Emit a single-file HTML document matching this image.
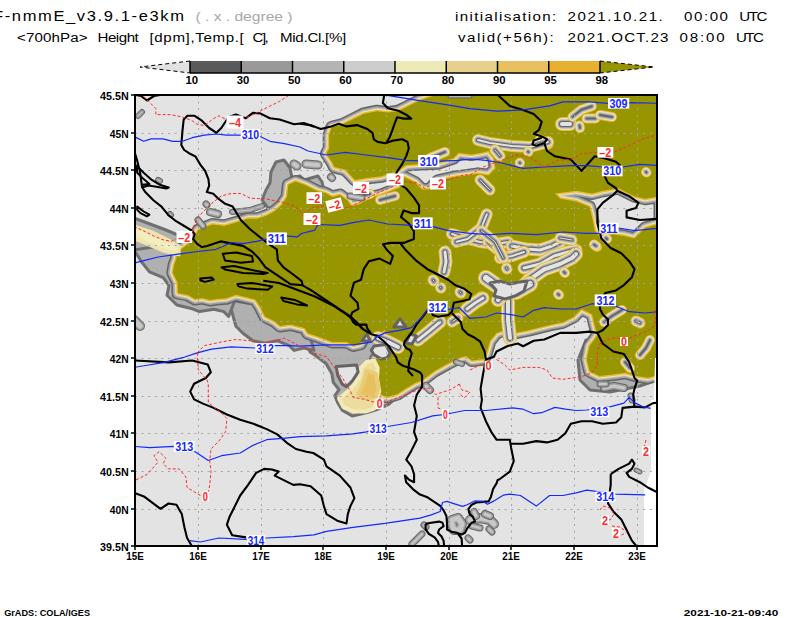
<!DOCTYPE html><html><head><meta charset="utf-8"><style>html,body{margin:0;padding:0;background:#fff;overflow:hidden;}svg{display:block;font-family:"Liberation Sans",sans-serif;}</style></head><body>
<svg width="800" height="618" viewBox="0 0 800 618">
<rect width="800" height="618" fill="#fff"/>
<defs><clipPath id="mc"><rect x="135" y="95" width="522" height="451"/></clipPath></defs>
<g transform="scale(1.180,1)"><text x="-5.93" y="20.70" font-size="14.0" fill="#000" font-weight="normal" textLength="161.86" lengthAdjust="spacing" xml:space="preserve">F-nmmE_v3.9.1-e3km</text></g>
<g transform="scale(1.120,1)"><text x="406.25" y="20.70" font-size="13.5" fill="#000" font-weight="normal" textLength="90.45" lengthAdjust="spacing" xml:space="preserve">initialisation:</text></g>
<g transform="scale(1.120,1)"><text x="506.70" y="20.70" font-size="13.5" fill="#000" font-weight="normal" textLength="85.09" lengthAdjust="spacing" xml:space="preserve">2021.10.21.</text></g>
<g transform="scale(1.120,1)"><text x="610.80" y="20.70" font-size="13.5" fill="#000" font-weight="normal" textLength="39.20" lengthAdjust="spacing" xml:space="preserve">00:00</text></g>
<g transform="scale(1.120,1)"><text x="660.09" y="20.70" font-size="13.5" fill="#000" font-weight="normal" textLength="25.09" lengthAdjust="spacing" xml:space="preserve">UTC</text></g>
<g transform="scale(1.120,1)"><text x="408.93" y="41.70" font-size="13.5" fill="#000" font-weight="normal" textLength="85.54" lengthAdjust="spacing" xml:space="preserve">valid(+56h):</text></g>
<g transform="scale(1.120,1)"><text x="506.70" y="41.70" font-size="13.5" fill="#000" font-weight="normal" textLength="90.09" lengthAdjust="spacing" xml:space="preserve">2021.OCT.23</text></g>
<g transform="scale(1.120,1)"><text x="606.79" y="41.70" font-size="13.5" fill="#000" font-weight="normal" textLength="40.18" lengthAdjust="spacing" xml:space="preserve">08:00</text></g>
<g transform="scale(1.120,1)"><text x="657.05" y="41.70" font-size="13.5" fill="#000" font-weight="normal" textLength="25.09" lengthAdjust="spacing" xml:space="preserve">UTC</text></g>
<g transform="scale(1.120,1)"><text x="15.18" y="41.70" font-size="13.5" fill="#000" font-weight="normal" textLength="62.95" lengthAdjust="spacing" xml:space="preserve">&lt;700hPa&gt;</text></g>
<g transform="scale(1.120,1)"><text x="87.05" y="41.70" font-size="13.5" fill="#000" font-weight="normal" textLength="36.88" lengthAdjust="spacing" xml:space="preserve">Height</text></g>
<g transform="scale(1.120,1)"><text x="133.48" y="41.70" font-size="13.5" fill="#000" font-weight="normal" textLength="84.20" lengthAdjust="spacing" xml:space="preserve">[dpm],Temp.[</text></g>
<g transform="scale(1.120,1)"><text x="225.45" y="41.70" font-size="13.5" fill="#000" font-weight="normal" textLength="14.55" lengthAdjust="spacing" xml:space="preserve">C],</text></g>
<g transform="scale(1.120,1)"><text x="250.00" y="41.70" font-size="13.5" fill="#000" font-weight="normal" textLength="59.20" lengthAdjust="spacing" xml:space="preserve">Mid.Cl.[%]</text></g>
<text x="195.5" y="20.5" font-size="12.0" fill="#a8a8a8" text-anchor="start" font-weight="normal" textLength="97.0" lengthAdjust="spacingAndGlyphs" >( . x . degree )</text>
<text x="4.2" y="615.5" font-size="9.5" fill="#000" text-anchor="start" font-weight="bold" textLength="85.8" lengthAdjust="spacingAndGlyphs" >GrADS: COLA/IGES</text>
<text x="683.8" y="615.5" font-size="9.5" fill="#000" text-anchor="start" font-weight="bold" textLength="94.4" lengthAdjust="spacingAndGlyphs" >2021-10-21-09:40</text>
<polygon points="190,61 190,73 140,67" fill="#e1e1e1"/>
<path d="M190 61 L140 67 L190 73" fill="none" stroke="#000" stroke-width="1" stroke-dasharray="4,3"/>
<rect x="190.00" y="61" width="51.25" height="12" fill="#5a5a5a"/>
<rect x="241.25" y="61" width="51.25" height="12" fill="#999999"/>
<rect x="292.50" y="61" width="51.25" height="12" fill="#b4b4b4"/>
<rect x="343.75" y="61" width="51.25" height="12" fill="#cdcdcd"/>
<rect x="395.00" y="61" width="51.25" height="12" fill="#eeeab8"/>
<rect x="446.25" y="61" width="51.25" height="12" fill="#e8d08c"/>
<rect x="497.50" y="61" width="51.25" height="12" fill="#e8c060"/>
<rect x="548.75" y="61" width="51.25" height="12" fill="#e8b030"/>
<polygon points="600,61 600,73 654,67" fill="#979500"/>
<path d="M600 61 L654 67 L600 73" fill="none" stroke="#000" stroke-width="1" stroke-dasharray="4,3"/>
<line x1="190" y1="73" x2="600" y2="73" stroke="#000" stroke-width="1.5"/>
<line x1="190.00" y1="61" x2="190.00" y2="73" stroke="#000" stroke-width="1.5"/>
<text x="185.5" y="84.0" font-size="10.0" fill="#000" text-anchor="start" font-weight="bold" textLength="12.6" lengthAdjust="spacingAndGlyphs" >10</text>
<line x1="241.25" y1="61" x2="241.25" y2="73" stroke="#000" stroke-width="1.5"/>
<text x="236.8" y="84.0" font-size="10.0" fill="#000" text-anchor="start" font-weight="bold" textLength="12.6" lengthAdjust="spacingAndGlyphs" >30</text>
<line x1="292.50" y1="61" x2="292.50" y2="73" stroke="#000" stroke-width="1.5"/>
<text x="288.0" y="84.0" font-size="10.0" fill="#000" text-anchor="start" font-weight="bold" textLength="12.6" lengthAdjust="spacingAndGlyphs" >50</text>
<line x1="343.75" y1="61" x2="343.75" y2="73" stroke="#000" stroke-width="1.5"/>
<text x="339.2" y="84.0" font-size="10.0" fill="#000" text-anchor="start" font-weight="bold" textLength="12.6" lengthAdjust="spacingAndGlyphs" >60</text>
<line x1="395.00" y1="61" x2="395.00" y2="73" stroke="#000" stroke-width="1.5"/>
<text x="390.5" y="84.0" font-size="10.0" fill="#000" text-anchor="start" font-weight="bold" textLength="12.6" lengthAdjust="spacingAndGlyphs" >70</text>
<line x1="446.25" y1="61" x2="446.25" y2="73" stroke="#000" stroke-width="1.5"/>
<text x="441.8" y="84.0" font-size="10.0" fill="#000" text-anchor="start" font-weight="bold" textLength="12.6" lengthAdjust="spacingAndGlyphs" >80</text>
<line x1="497.50" y1="61" x2="497.50" y2="73" stroke="#000" stroke-width="1.5"/>
<text x="493.0" y="84.0" font-size="10.0" fill="#000" text-anchor="start" font-weight="bold" textLength="12.6" lengthAdjust="spacingAndGlyphs" >90</text>
<line x1="548.75" y1="61" x2="548.75" y2="73" stroke="#000" stroke-width="1.5"/>
<text x="544.2" y="84.0" font-size="10.0" fill="#000" text-anchor="start" font-weight="bold" textLength="12.6" lengthAdjust="spacingAndGlyphs" >95</text>
<line x1="600.00" y1="61" x2="600.00" y2="73" stroke="#000" stroke-width="1.5"/>
<text x="595.5" y="84.0" font-size="10.0" fill="#000" text-anchor="start" font-weight="bold" textLength="12.6" lengthAdjust="spacingAndGlyphs" >98</text>
<g clip-path="url(#mc)">
<rect x="134" y="94" width="524" height="453" fill="#e3e3e3"/>
<path d="M300.0 330.0 L310.0 351.9 L314.4 354.8 L326.0 363.5 L331.9 373.7 L333.3 382.4 L339.1 389.7 L334.8 395.6 L337.7 402.8 L342.1 410.1 L352.2 416.0 L365.4 413.0 L375.6 410.1 L388.7 404.3 L403.2 391.2 L414.9 385.4 L420.0 383.9 L400.0 360.0 L380.0 335.0 Z" fill="#b0b0b0" stroke="#707070" stroke-width="3" stroke-linejoin="round"/>
<path d="M271.0 172.0 L276.0 162.0 L284.0 160.0 L290.0 168.0 L292.0 178.0 L300.0 176.0 L304.0 180.0 L318.0 176.0 L322.0 182.0 L324.0 190.0 L318.0 195.0 L300.0 190.0 L290.0 190.0 L285.0 196.0 L280.0 205.0 L276.0 210.0 L268.0 208.0 L262.0 200.0 L266.0 190.0 L270.0 183.0 Z" fill="#b0b0b0" stroke="#707070" stroke-width="3" stroke-linejoin="round"/>
<path d="M228.6 300.0 L235.9 326.2 L243.2 333.5 L252.9 340.7 L265.0 343.2 L277.1 340.7 L289.3 345.6 L294.1 350.4 L303.8 348.0 L314.0 350.4 L310.0 336.0 L280.0 322.0 L260.0 305.0 Z" fill="#b0b0b0" stroke="#707070" stroke-width="3" stroke-linejoin="round"/>
<path d="M134.0 218.0 L150.0 224.0 L166.0 230.0 L180.0 236.0 L190.0 246.0 L186.0 262.0 L172.0 266.0 L160.0 258.0 L148.0 252.0 L134.0 250.0 Z" fill="#b0b0b0" stroke="#707070" stroke-width="3" stroke-linejoin="round"/>
<path d="M134.0 250.0 L141.8 262.2 L149.5 271.9 L163.2 277.7 L169.0 285.5 L167.0 295.2 L176.8 305.0 L192.3 308.8 L199.5 311.6 L214.0 309.2 L223.8 311.6 L228.6 316.5 L235.0 300.0 L180.0 290.0 L176.0 250.0 L160.0 246.0 Z" fill="#b0b0b0" stroke="#707070" stroke-width="3" stroke-linejoin="round"/>
<path d="M586.0 340.0 L578.0 360.0 L580.0 380.0 L590.0 390.0 L610.0 392.0 L640.0 386.0 L657.0 380.0 L657.0 370.0 L600.0 370.0 Z" fill="#b0b0b0" stroke="#707070" stroke-width="3" stroke-linejoin="round"/>
<path d="M435.0 93.0 L660.0 93.0 L660.0 372.0 L654.5 376.0 L648.0 377.7 L636.7 376.0 L625.3 372.8 L612.4 374.5 L599.4 376.0 L589.7 371.2 L586.8 359.4 L589.4 346.2 L597.4 335.5 L594.7 324.9 L592.1 314.3 L581.5 309.0 L573.5 317.0 L562.9 322.3 L549.6 324.9 L528.4 330.2 L515.1 332.9 L504.5 330.2 L496.5 332.9 L490.0 341.0 L485.5 356.0 L484.0 359.0 L472.0 360.5 L466.0 356.0 L460.0 357.5 L448.0 363.5 L434.5 371.0 L422.5 380.0 L415.0 383.0 L405.0 389.0 L397.4 394.1 L387.2 397.0 L379.9 394.1 L378.5 385.4 L377.0 373.7 L375.6 359.1 L385.8 357.7 L392.0 352.0 L392.0 346.0 L385.0 342.0 L385.0 329.8 L378.0 335.0 L371.0 333.3 L364.0 336.8 L360.5 343.8 L353.5 345.5 L346.5 342.0 L332.5 342.0 L318.5 336.8 L308.0 333.3 L304.5 328.0 L290.5 324.5 L280.0 326.0 L274.7 321.3 L265.0 316.5 L260.2 306.8 L255.3 299.5 L245.6 297.1 L235.9 294.7 L226.2 298.3 L216.5 299.0 L210.0 300.0 L202.0 298.0 L195.0 299.0 L188.0 295.0 L183.0 294.0 L178.0 293.0 L177.7 282.5 L172.8 272.8 L174.0 265.5 L176.5 258.3 L177.7 248.6 L181.5 249.3 L193.4 239.8 L198.1 230.3 L212.4 224.5 L224.3 225.9 L236.1 222.5 L248.0 218.8 L257.5 218.8 L267.0 215.4 L274.1 211.6 L281.3 205.5 L287.0 197.0 L288.4 184.8 L295.5 181.4 L305.0 185.1 L310.0 187.5 L317.5 191.3 L325.0 193.1 L332.5 196.9 L340.0 195.0 L347.5 200.6 L351.3 206.3 L358.8 204.4 L366.3 200.6 L373.8 196.9 L381.3 195.0 L390.6 191.3 L400.0 187.5 L404.5 177.3 L415.0 182.5 L422.0 189.5 L429.0 189.5 L437.8 180.8 L453.5 177.3 L467.5 175.5 L478.0 173.8 L488.5 175.5 L495.5 168.5 L493.8 158.0 L488.5 151.0 L481.5 152.8 L471.0 154.5 L458.8 152.8 L453.5 158.0 L437.8 163.3 L420.3 164.1 L406.3 165.0 L395.8 172.0 L392.5 172.5 L381.3 176.3 L366.3 178.1 L355.0 180.0 L350.4 174.9 L345.1 169.6 L334.5 167.0 L331.8 161.7 L326.5 153.7 L329.2 148.4 L329.2 135.1 L331.8 127.2 L342.5 124.5 L353.1 119.2 L363.7 113.9 L377.0 111.2 L387.6 112.6 L398.2 111.2 L406.2 107.3 L419.4 100.6 L435.4 95.3 Z M554.9 193.5 L576.2 190.8 L592.1 193.5 L602.7 190.8 L618.6 188.2 L634.5 196.2 L645.2 198.8 L662.0 196.0 L662.0 223.0 L645.2 228.0 L634.5 238.6 L623.9 236.0 L613.3 234.6 L600.0 237.3 L594.7 230.7 L592.1 217.4 L589.4 206.8 L576.2 201.5 L560.2 198.8 Z" fill="none" stroke="#646464" stroke-width="13" stroke-linejoin="round"/>
<path d="M435.0 93.0 L660.0 93.0 L660.0 372.0 L654.5 376.0 L648.0 377.7 L636.7 376.0 L625.3 372.8 L612.4 374.5 L599.4 376.0 L589.7 371.2 L586.8 359.4 L589.4 346.2 L597.4 335.5 L594.7 324.9 L592.1 314.3 L581.5 309.0 L573.5 317.0 L562.9 322.3 L549.6 324.9 L528.4 330.2 L515.1 332.9 L504.5 330.2 L496.5 332.9 L490.0 341.0 L485.5 356.0 L484.0 359.0 L472.0 360.5 L466.0 356.0 L460.0 357.5 L448.0 363.5 L434.5 371.0 L422.5 380.0 L415.0 383.0 L405.0 389.0 L397.4 394.1 L387.2 397.0 L379.9 394.1 L378.5 385.4 L377.0 373.7 L375.6 359.1 L385.8 357.7 L392.0 352.0 L392.0 346.0 L385.0 342.0 L385.0 329.8 L378.0 335.0 L371.0 333.3 L364.0 336.8 L360.5 343.8 L353.5 345.5 L346.5 342.0 L332.5 342.0 L318.5 336.8 L308.0 333.3 L304.5 328.0 L290.5 324.5 L280.0 326.0 L274.7 321.3 L265.0 316.5 L260.2 306.8 L255.3 299.5 L245.6 297.1 L235.9 294.7 L226.2 298.3 L216.5 299.0 L210.0 300.0 L202.0 298.0 L195.0 299.0 L188.0 295.0 L183.0 294.0 L178.0 293.0 L177.7 282.5 L172.8 272.8 L174.0 265.5 L176.5 258.3 L177.7 248.6 L181.5 249.3 L193.4 239.8 L198.1 230.3 L212.4 224.5 L224.3 225.9 L236.1 222.5 L248.0 218.8 L257.5 218.8 L267.0 215.4 L274.1 211.6 L281.3 205.5 L287.0 197.0 L288.4 184.8 L295.5 181.4 L305.0 185.1 L310.0 187.5 L317.5 191.3 L325.0 193.1 L332.5 196.9 L340.0 195.0 L347.5 200.6 L351.3 206.3 L358.8 204.4 L366.3 200.6 L373.8 196.9 L381.3 195.0 L390.6 191.3 L400.0 187.5 L404.5 177.3 L415.0 182.5 L422.0 189.5 L429.0 189.5 L437.8 180.8 L453.5 177.3 L467.5 175.5 L478.0 173.8 L488.5 175.5 L495.5 168.5 L493.8 158.0 L488.5 151.0 L481.5 152.8 L471.0 154.5 L458.8 152.8 L453.5 158.0 L437.8 163.3 L420.3 164.1 L406.3 165.0 L395.8 172.0 L392.5 172.5 L381.3 176.3 L366.3 178.1 L355.0 180.0 L350.4 174.9 L345.1 169.6 L334.5 167.0 L331.8 161.7 L326.5 153.7 L329.2 148.4 L329.2 135.1 L331.8 127.2 L342.5 124.5 L353.1 119.2 L363.7 113.9 L377.0 111.2 L387.6 112.6 L398.2 111.2 L406.2 107.3 L419.4 100.6 L435.4 95.3 Z M554.9 193.5 L576.2 190.8 L592.1 193.5 L602.7 190.8 L618.6 188.2 L634.5 196.2 L645.2 198.8 L662.0 196.0 L662.0 223.0 L645.2 228.0 L634.5 238.6 L623.9 236.0 L613.3 234.6 L600.0 237.3 L594.7 230.7 L592.1 217.4 L589.4 206.8 L576.2 201.5 L560.2 198.8 Z" fill="none" stroke="#a0a0a0" stroke-width="10" stroke-linejoin="round"/>
<path d="M435.0 93.0 L660.0 93.0 L660.0 372.0 L654.5 376.0 L648.0 377.7 L636.7 376.0 L625.3 372.8 L612.4 374.5 L599.4 376.0 L589.7 371.2 L586.8 359.4 L589.4 346.2 L597.4 335.5 L594.7 324.9 L592.1 314.3 L581.5 309.0 L573.5 317.0 L562.9 322.3 L549.6 324.9 L528.4 330.2 L515.1 332.9 L504.5 330.2 L496.5 332.9 L490.0 341.0 L485.5 356.0 L484.0 359.0 L472.0 360.5 L466.0 356.0 L460.0 357.5 L448.0 363.5 L434.5 371.0 L422.5 380.0 L415.0 383.0 L405.0 389.0 L397.4 394.1 L387.2 397.0 L379.9 394.1 L378.5 385.4 L377.0 373.7 L375.6 359.1 L385.8 357.7 L392.0 352.0 L392.0 346.0 L385.0 342.0 L385.0 329.8 L378.0 335.0 L371.0 333.3 L364.0 336.8 L360.5 343.8 L353.5 345.5 L346.5 342.0 L332.5 342.0 L318.5 336.8 L308.0 333.3 L304.5 328.0 L290.5 324.5 L280.0 326.0 L274.7 321.3 L265.0 316.5 L260.2 306.8 L255.3 299.5 L245.6 297.1 L235.9 294.7 L226.2 298.3 L216.5 299.0 L210.0 300.0 L202.0 298.0 L195.0 299.0 L188.0 295.0 L183.0 294.0 L178.0 293.0 L177.7 282.5 L172.8 272.8 L174.0 265.5 L176.5 258.3 L177.7 248.6 L181.5 249.3 L193.4 239.8 L198.1 230.3 L212.4 224.5 L224.3 225.9 L236.1 222.5 L248.0 218.8 L257.5 218.8 L267.0 215.4 L274.1 211.6 L281.3 205.5 L287.0 197.0 L288.4 184.8 L295.5 181.4 L305.0 185.1 L310.0 187.5 L317.5 191.3 L325.0 193.1 L332.5 196.9 L340.0 195.0 L347.5 200.6 L351.3 206.3 L358.8 204.4 L366.3 200.6 L373.8 196.9 L381.3 195.0 L390.6 191.3 L400.0 187.5 L404.5 177.3 L415.0 182.5 L422.0 189.5 L429.0 189.5 L437.8 180.8 L453.5 177.3 L467.5 175.5 L478.0 173.8 L488.5 175.5 L495.5 168.5 L493.8 158.0 L488.5 151.0 L481.5 152.8 L471.0 154.5 L458.8 152.8 L453.5 158.0 L437.8 163.3 L420.3 164.1 L406.3 165.0 L395.8 172.0 L392.5 172.5 L381.3 176.3 L366.3 178.1 L355.0 180.0 L350.4 174.9 L345.1 169.6 L334.5 167.0 L331.8 161.7 L326.5 153.7 L329.2 148.4 L329.2 135.1 L331.8 127.2 L342.5 124.5 L353.1 119.2 L363.7 113.9 L377.0 111.2 L387.6 112.6 L398.2 111.2 L406.2 107.3 L419.4 100.6 L435.4 95.3 Z M554.9 193.5 L576.2 190.8 L592.1 193.5 L602.7 190.8 L618.6 188.2 L634.5 196.2 L645.2 198.8 L662.0 196.0 L662.0 223.0 L645.2 228.0 L634.5 238.6 L623.9 236.0 L613.3 234.6 L600.0 237.3 L594.7 230.7 L592.1 217.4 L589.4 206.8 L576.2 201.5 L560.2 198.8 Z" fill="none" stroke="#c8c8c8" stroke-width="7" stroke-linejoin="round"/>
<path d="M435.0 93.0 L660.0 93.0 L660.0 372.0 L654.5 376.0 L648.0 377.7 L636.7 376.0 L625.3 372.8 L612.4 374.5 L599.4 376.0 L589.7 371.2 L586.8 359.4 L589.4 346.2 L597.4 335.5 L594.7 324.9 L592.1 314.3 L581.5 309.0 L573.5 317.0 L562.9 322.3 L549.6 324.9 L528.4 330.2 L515.1 332.9 L504.5 330.2 L496.5 332.9 L490.0 341.0 L485.5 356.0 L484.0 359.0 L472.0 360.5 L466.0 356.0 L460.0 357.5 L448.0 363.5 L434.5 371.0 L422.5 380.0 L415.0 383.0 L405.0 389.0 L397.4 394.1 L387.2 397.0 L379.9 394.1 L378.5 385.4 L377.0 373.7 L375.6 359.1 L385.8 357.7 L392.0 352.0 L392.0 346.0 L385.0 342.0 L385.0 329.8 L378.0 335.0 L371.0 333.3 L364.0 336.8 L360.5 343.8 L353.5 345.5 L346.5 342.0 L332.5 342.0 L318.5 336.8 L308.0 333.3 L304.5 328.0 L290.5 324.5 L280.0 326.0 L274.7 321.3 L265.0 316.5 L260.2 306.8 L255.3 299.5 L245.6 297.1 L235.9 294.7 L226.2 298.3 L216.5 299.0 L210.0 300.0 L202.0 298.0 L195.0 299.0 L188.0 295.0 L183.0 294.0 L178.0 293.0 L177.7 282.5 L172.8 272.8 L174.0 265.5 L176.5 258.3 L177.7 248.6 L181.5 249.3 L193.4 239.8 L198.1 230.3 L212.4 224.5 L224.3 225.9 L236.1 222.5 L248.0 218.8 L257.5 218.8 L267.0 215.4 L274.1 211.6 L281.3 205.5 L287.0 197.0 L288.4 184.8 L295.5 181.4 L305.0 185.1 L310.0 187.5 L317.5 191.3 L325.0 193.1 L332.5 196.9 L340.0 195.0 L347.5 200.6 L351.3 206.3 L358.8 204.4 L366.3 200.6 L373.8 196.9 L381.3 195.0 L390.6 191.3 L400.0 187.5 L404.5 177.3 L415.0 182.5 L422.0 189.5 L429.0 189.5 L437.8 180.8 L453.5 177.3 L467.5 175.5 L478.0 173.8 L488.5 175.5 L495.5 168.5 L493.8 158.0 L488.5 151.0 L481.5 152.8 L471.0 154.5 L458.8 152.8 L453.5 158.0 L437.8 163.3 L420.3 164.1 L406.3 165.0 L395.8 172.0 L392.5 172.5 L381.3 176.3 L366.3 178.1 L355.0 180.0 L350.4 174.9 L345.1 169.6 L334.5 167.0 L331.8 161.7 L326.5 153.7 L329.2 148.4 L329.2 135.1 L331.8 127.2 L342.5 124.5 L353.1 119.2 L363.7 113.9 L377.0 111.2 L387.6 112.6 L398.2 111.2 L406.2 107.3 L419.4 100.6 L435.4 95.3 Z M554.9 193.5 L576.2 190.8 L592.1 193.5 L602.7 190.8 L618.6 188.2 L634.5 196.2 L645.2 198.8 L662.0 196.0 L662.0 223.0 L645.2 228.0 L634.5 238.6 L623.9 236.0 L613.3 234.6 L600.0 237.3 L594.7 230.7 L592.1 217.4 L589.4 206.8 L576.2 201.5 L560.2 198.8 Z" fill="none" stroke="#f0e6a8" stroke-width="5" stroke-linejoin="round"/>
<path d="M435.0 93.0 L660.0 93.0 L660.0 372.0 L654.5 376.0 L648.0 377.7 L636.7 376.0 L625.3 372.8 L612.4 374.5 L599.4 376.0 L589.7 371.2 L586.8 359.4 L589.4 346.2 L597.4 335.5 L594.7 324.9 L592.1 314.3 L581.5 309.0 L573.5 317.0 L562.9 322.3 L549.6 324.9 L528.4 330.2 L515.1 332.9 L504.5 330.2 L496.5 332.9 L490.0 341.0 L485.5 356.0 L484.0 359.0 L472.0 360.5 L466.0 356.0 L460.0 357.5 L448.0 363.5 L434.5 371.0 L422.5 380.0 L415.0 383.0 L405.0 389.0 L397.4 394.1 L387.2 397.0 L379.9 394.1 L378.5 385.4 L377.0 373.7 L375.6 359.1 L385.8 357.7 L392.0 352.0 L392.0 346.0 L385.0 342.0 L385.0 329.8 L378.0 335.0 L371.0 333.3 L364.0 336.8 L360.5 343.8 L353.5 345.5 L346.5 342.0 L332.5 342.0 L318.5 336.8 L308.0 333.3 L304.5 328.0 L290.5 324.5 L280.0 326.0 L274.7 321.3 L265.0 316.5 L260.2 306.8 L255.3 299.5 L245.6 297.1 L235.9 294.7 L226.2 298.3 L216.5 299.0 L210.0 300.0 L202.0 298.0 L195.0 299.0 L188.0 295.0 L183.0 294.0 L178.0 293.0 L177.7 282.5 L172.8 272.8 L174.0 265.5 L176.5 258.3 L177.7 248.6 L181.5 249.3 L193.4 239.8 L198.1 230.3 L212.4 224.5 L224.3 225.9 L236.1 222.5 L248.0 218.8 L257.5 218.8 L267.0 215.4 L274.1 211.6 L281.3 205.5 L287.0 197.0 L288.4 184.8 L295.5 181.4 L305.0 185.1 L310.0 187.5 L317.5 191.3 L325.0 193.1 L332.5 196.9 L340.0 195.0 L347.5 200.6 L351.3 206.3 L358.8 204.4 L366.3 200.6 L373.8 196.9 L381.3 195.0 L390.6 191.3 L400.0 187.5 L404.5 177.3 L415.0 182.5 L422.0 189.5 L429.0 189.5 L437.8 180.8 L453.5 177.3 L467.5 175.5 L478.0 173.8 L488.5 175.5 L495.5 168.5 L493.8 158.0 L488.5 151.0 L481.5 152.8 L471.0 154.5 L458.8 152.8 L453.5 158.0 L437.8 163.3 L420.3 164.1 L406.3 165.0 L395.8 172.0 L392.5 172.5 L381.3 176.3 L366.3 178.1 L355.0 180.0 L350.4 174.9 L345.1 169.6 L334.5 167.0 L331.8 161.7 L326.5 153.7 L329.2 148.4 L329.2 135.1 L331.8 127.2 L342.5 124.5 L353.1 119.2 L363.7 113.9 L377.0 111.2 L387.6 112.6 L398.2 111.2 L406.2 107.3 L419.4 100.6 L435.4 95.3 Z M554.9 193.5 L576.2 190.8 L592.1 193.5 L602.7 190.8 L618.6 188.2 L634.5 196.2 L645.2 198.8 L662.0 196.0 L662.0 223.0 L645.2 228.0 L634.5 238.6 L623.9 236.0 L613.3 234.6 L600.0 237.3 L594.7 230.7 L592.1 217.4 L589.4 206.8 L576.2 201.5 L560.2 198.8 Z" fill="none" stroke="#e8b838" stroke-width="3" stroke-linejoin="round"/>
<path d="M435.0 93.0 L660.0 93.0 L660.0 372.0 L654.5 376.0 L648.0 377.7 L636.7 376.0 L625.3 372.8 L612.4 374.5 L599.4 376.0 L589.7 371.2 L586.8 359.4 L589.4 346.2 L597.4 335.5 L594.7 324.9 L592.1 314.3 L581.5 309.0 L573.5 317.0 L562.9 322.3 L549.6 324.9 L528.4 330.2 L515.1 332.9 L504.5 330.2 L496.5 332.9 L490.0 341.0 L485.5 356.0 L484.0 359.0 L472.0 360.5 L466.0 356.0 L460.0 357.5 L448.0 363.5 L434.5 371.0 L422.5 380.0 L415.0 383.0 L405.0 389.0 L397.4 394.1 L387.2 397.0 L379.9 394.1 L378.5 385.4 L377.0 373.7 L375.6 359.1 L385.8 357.7 L392.0 352.0 L392.0 346.0 L385.0 342.0 L385.0 329.8 L378.0 335.0 L371.0 333.3 L364.0 336.8 L360.5 343.8 L353.5 345.5 L346.5 342.0 L332.5 342.0 L318.5 336.8 L308.0 333.3 L304.5 328.0 L290.5 324.5 L280.0 326.0 L274.7 321.3 L265.0 316.5 L260.2 306.8 L255.3 299.5 L245.6 297.1 L235.9 294.7 L226.2 298.3 L216.5 299.0 L210.0 300.0 L202.0 298.0 L195.0 299.0 L188.0 295.0 L183.0 294.0 L178.0 293.0 L177.7 282.5 L172.8 272.8 L174.0 265.5 L176.5 258.3 L177.7 248.6 L181.5 249.3 L193.4 239.8 L198.1 230.3 L212.4 224.5 L224.3 225.9 L236.1 222.5 L248.0 218.8 L257.5 218.8 L267.0 215.4 L274.1 211.6 L281.3 205.5 L287.0 197.0 L288.4 184.8 L295.5 181.4 L305.0 185.1 L310.0 187.5 L317.5 191.3 L325.0 193.1 L332.5 196.9 L340.0 195.0 L347.5 200.6 L351.3 206.3 L358.8 204.4 L366.3 200.6 L373.8 196.9 L381.3 195.0 L390.6 191.3 L400.0 187.5 L404.5 177.3 L415.0 182.5 L422.0 189.5 L429.0 189.5 L437.8 180.8 L453.5 177.3 L467.5 175.5 L478.0 173.8 L488.5 175.5 L495.5 168.5 L493.8 158.0 L488.5 151.0 L481.5 152.8 L471.0 154.5 L458.8 152.8 L453.5 158.0 L437.8 163.3 L420.3 164.1 L406.3 165.0 L395.8 172.0 L392.5 172.5 L381.3 176.3 L366.3 178.1 L355.0 180.0 L350.4 174.9 L345.1 169.6 L334.5 167.0 L331.8 161.7 L326.5 153.7 L329.2 148.4 L329.2 135.1 L331.8 127.2 L342.5 124.5 L353.1 119.2 L363.7 113.9 L377.0 111.2 L387.6 112.6 L398.2 111.2 L406.2 107.3 L419.4 100.6 L435.4 95.3 Z M554.9 193.5 L576.2 190.8 L592.1 193.5 L602.7 190.8 L618.6 188.2 L634.5 196.2 L645.2 198.8 L662.0 196.0 L662.0 223.0 L645.2 228.0 L634.5 238.6 L623.9 236.0 L613.3 234.6 L600.0 237.3 L594.7 230.7 L592.1 217.4 L589.4 206.8 L576.2 201.5 L560.2 198.8 Z" fill="#979500" fill-rule="evenodd"/>
<path d="M562.0 124.0 L570.0 124.0" fill="none" stroke="#e8b838" stroke-width="14" stroke-linejoin="round" stroke-linecap="round"/>
<path d="M562.0 124.0 L570.0 124.0" fill="none" stroke="#f0e6a8" stroke-width="12" stroke-linejoin="round" stroke-linecap="round"/>
<path d="M562.0 124.0 L570.0 124.0" fill="none" stroke="#c8c8c8" stroke-width="10" stroke-linejoin="round" stroke-linecap="round"/>
<path d="M562.0 124.0 L570.0 124.0" fill="none" stroke="#a0a0a0" stroke-width="8" stroke-linejoin="round" stroke-linecap="round"/>
<path d="M562.0 124.0 L570.0 124.0" fill="none" stroke="#646464" stroke-width="6" stroke-linejoin="round" stroke-linecap="round"/>
<path d="M562.0 124.0 L570.0 124.0" fill="none" stroke="#e3e3e3" stroke-width="4" stroke-linejoin="round" stroke-linecap="round"/>
<path d="M572.5 116.8 L581.3 109.8 L591.8 106.3" fill="none" stroke="#e8b838" stroke-width="10" stroke-linejoin="round" stroke-linecap="round"/>
<path d="M572.5 116.8 L581.3 109.8 L591.8 106.3" fill="none" stroke="#f0e6a8" stroke-width="8" stroke-linejoin="round" stroke-linecap="round"/>
<path d="M572.5 116.8 L581.3 109.8 L591.8 106.3" fill="none" stroke="#c8c8c8" stroke-width="6" stroke-linejoin="round" stroke-linecap="round"/>
<path d="M572.5 116.8 L581.3 109.8 L591.8 106.3" fill="none" stroke="#a0a0a0" stroke-width="4" stroke-linejoin="round" stroke-linecap="round"/>
<path d="M572.5 116.8 L581.3 109.8 L591.8 106.3" fill="none" stroke="#646464" stroke-width="2" stroke-linejoin="round" stroke-linecap="round"/>
<path d="M586.5 118.5 L595.3 118.5" fill="none" stroke="#e8b838" stroke-width="10" stroke-linejoin="round" stroke-linecap="round"/>
<path d="M586.5 118.5 L595.3 118.5" fill="none" stroke="#f0e6a8" stroke-width="8" stroke-linejoin="round" stroke-linecap="round"/>
<path d="M586.5 118.5 L595.3 118.5" fill="none" stroke="#c8c8c8" stroke-width="6" stroke-linejoin="round" stroke-linecap="round"/>
<path d="M586.5 118.5 L595.3 118.5" fill="none" stroke="#a0a0a0" stroke-width="4" stroke-linejoin="round" stroke-linecap="round"/>
<path d="M586.5 118.5 L595.3 118.5" fill="none" stroke="#646464" stroke-width="2" stroke-linejoin="round" stroke-linecap="round"/>
<path d="M600.0 115.0 L612.0 117.0" fill="none" stroke="#e8b838" stroke-width="10" stroke-linejoin="round" stroke-linecap="round"/>
<path d="M600.0 115.0 L612.0 117.0" fill="none" stroke="#f0e6a8" stroke-width="8" stroke-linejoin="round" stroke-linecap="round"/>
<path d="M600.0 115.0 L612.0 117.0" fill="none" stroke="#c8c8c8" stroke-width="6" stroke-linejoin="round" stroke-linecap="round"/>
<path d="M600.0 115.0 L612.0 117.0" fill="none" stroke="#a0a0a0" stroke-width="4" stroke-linejoin="round" stroke-linecap="round"/>
<path d="M600.0 115.0 L612.0 117.0" fill="none" stroke="#646464" stroke-width="2" stroke-linejoin="round" stroke-linecap="round"/>
<path d="M579.5 125.5 L580.0 128.0" fill="none" stroke="#e8b838" stroke-width="10" stroke-linejoin="round" stroke-linecap="round"/>
<path d="M579.5 125.5 L580.0 128.0" fill="none" stroke="#f0e6a8" stroke-width="8" stroke-linejoin="round" stroke-linecap="round"/>
<path d="M579.5 125.5 L580.0 128.0" fill="none" stroke="#c8c8c8" stroke-width="6" stroke-linejoin="round" stroke-linecap="round"/>
<path d="M579.5 125.5 L580.0 128.0" fill="none" stroke="#a0a0a0" stroke-width="4" stroke-linejoin="round" stroke-linecap="round"/>
<path d="M579.5 125.5 L580.0 128.0" fill="none" stroke="#646464" stroke-width="2" stroke-linejoin="round" stroke-linecap="round"/>
<path d="M540.0 140.0 L548.0 144.0" fill="none" stroke="#e8b838" stroke-width="11" stroke-linejoin="round" stroke-linecap="round"/>
<path d="M540.0 140.0 L548.0 144.0" fill="none" stroke="#f0e6a8" stroke-width="9" stroke-linejoin="round" stroke-linecap="round"/>
<path d="M540.0 140.0 L548.0 144.0" fill="none" stroke="#c8c8c8" stroke-width="7" stroke-linejoin="round" stroke-linecap="round"/>
<path d="M540.0 140.0 L548.0 144.0" fill="none" stroke="#a0a0a0" stroke-width="5" stroke-linejoin="round" stroke-linecap="round"/>
<path d="M540.0 140.0 L548.0 144.0" fill="none" stroke="#646464" stroke-width="3" stroke-linejoin="round" stroke-linecap="round"/>
<path d="M540.0 140.0 L548.0 144.0" fill="none" stroke="#e3e3e3" stroke-width="1" stroke-linejoin="round" stroke-linecap="round"/>
<path d="M452.0 234.0 L464.0 238.0 L480.0 242.0 L496.0 244.0 L508.0 242.0" fill="none" stroke="#e8b838" stroke-width="12" stroke-linejoin="round" stroke-linecap="round"/>
<path d="M452.0 234.0 L464.0 238.0 L480.0 242.0 L496.0 244.0 L508.0 242.0" fill="none" stroke="#f0e6a8" stroke-width="10" stroke-linejoin="round" stroke-linecap="round"/>
<path d="M452.0 234.0 L464.0 238.0 L480.0 242.0 L496.0 244.0 L508.0 242.0" fill="none" stroke="#c8c8c8" stroke-width="8" stroke-linejoin="round" stroke-linecap="round"/>
<path d="M452.0 234.0 L464.0 238.0 L480.0 242.0 L496.0 244.0 L508.0 242.0" fill="none" stroke="#a0a0a0" stroke-width="6" stroke-linejoin="round" stroke-linecap="round"/>
<path d="M452.0 234.0 L464.0 238.0 L480.0 242.0 L496.0 244.0 L508.0 242.0" fill="none" stroke="#646464" stroke-width="4" stroke-linejoin="round" stroke-linecap="round"/>
<path d="M452.0 234.0 L464.0 238.0 L480.0 242.0 L496.0 244.0 L508.0 242.0" fill="none" stroke="#e3e3e3" stroke-width="2" stroke-linejoin="round" stroke-linecap="round"/>
<path d="M488.0 242.0 L500.0 252.0 L506.0 258.0" fill="none" stroke="#e8b838" stroke-width="11" stroke-linejoin="round" stroke-linecap="round"/>
<path d="M488.0 242.0 L500.0 252.0 L506.0 258.0" fill="none" stroke="#f0e6a8" stroke-width="9" stroke-linejoin="round" stroke-linecap="round"/>
<path d="M488.0 242.0 L500.0 252.0 L506.0 258.0" fill="none" stroke="#c8c8c8" stroke-width="7" stroke-linejoin="round" stroke-linecap="round"/>
<path d="M488.0 242.0 L500.0 252.0 L506.0 258.0" fill="none" stroke="#a0a0a0" stroke-width="5" stroke-linejoin="round" stroke-linecap="round"/>
<path d="M488.0 242.0 L500.0 252.0 L506.0 258.0" fill="none" stroke="#646464" stroke-width="3" stroke-linejoin="round" stroke-linecap="round"/>
<path d="M488.0 242.0 L500.0 252.0 L506.0 258.0" fill="none" stroke="#e3e3e3" stroke-width="1" stroke-linejoin="round" stroke-linecap="round"/>
<path d="M512.0 246.0 L526.0 249.0 L540.0 250.0 L552.0 246.0 L560.0 242.0" fill="none" stroke="#e8b838" stroke-width="13" stroke-linejoin="round" stroke-linecap="round"/>
<path d="M512.0 246.0 L526.0 249.0 L540.0 250.0 L552.0 246.0 L560.0 242.0" fill="none" stroke="#f0e6a8" stroke-width="11" stroke-linejoin="round" stroke-linecap="round"/>
<path d="M512.0 246.0 L526.0 249.0 L540.0 250.0 L552.0 246.0 L560.0 242.0" fill="none" stroke="#c8c8c8" stroke-width="9" stroke-linejoin="round" stroke-linecap="round"/>
<path d="M512.0 246.0 L526.0 249.0 L540.0 250.0 L552.0 246.0 L560.0 242.0" fill="none" stroke="#a0a0a0" stroke-width="7" stroke-linejoin="round" stroke-linecap="round"/>
<path d="M512.0 246.0 L526.0 249.0 L540.0 250.0 L552.0 246.0 L560.0 242.0" fill="none" stroke="#646464" stroke-width="5" stroke-linejoin="round" stroke-linecap="round"/>
<path d="M512.0 246.0 L526.0 249.0 L540.0 250.0 L552.0 246.0 L560.0 242.0" fill="none" stroke="#e3e3e3" stroke-width="3" stroke-linejoin="round" stroke-linecap="round"/>
<path d="M500.0 258.0 L512.0 256.0 L524.0 252.0" fill="none" stroke="#e8b838" stroke-width="12" stroke-linejoin="round" stroke-linecap="round"/>
<path d="M500.0 258.0 L512.0 256.0 L524.0 252.0" fill="none" stroke="#f0e6a8" stroke-width="10" stroke-linejoin="round" stroke-linecap="round"/>
<path d="M500.0 258.0 L512.0 256.0 L524.0 252.0" fill="none" stroke="#c8c8c8" stroke-width="8" stroke-linejoin="round" stroke-linecap="round"/>
<path d="M500.0 258.0 L512.0 256.0 L524.0 252.0" fill="none" stroke="#a0a0a0" stroke-width="6" stroke-linejoin="round" stroke-linecap="round"/>
<path d="M500.0 258.0 L512.0 256.0 L524.0 252.0" fill="none" stroke="#646464" stroke-width="4" stroke-linejoin="round" stroke-linecap="round"/>
<path d="M500.0 258.0 L512.0 256.0 L524.0 252.0" fill="none" stroke="#e3e3e3" stroke-width="2" stroke-linejoin="round" stroke-linecap="round"/>
<path d="M524.0 268.0 L540.0 264.0 L554.0 256.0 L568.0 252.0 L576.0 250.0" fill="none" stroke="#e8b838" stroke-width="13" stroke-linejoin="round" stroke-linecap="round"/>
<path d="M524.0 268.0 L540.0 264.0 L554.0 256.0 L568.0 252.0 L576.0 250.0" fill="none" stroke="#f0e6a8" stroke-width="11" stroke-linejoin="round" stroke-linecap="round"/>
<path d="M524.0 268.0 L540.0 264.0 L554.0 256.0 L568.0 252.0 L576.0 250.0" fill="none" stroke="#c8c8c8" stroke-width="9" stroke-linejoin="round" stroke-linecap="round"/>
<path d="M524.0 268.0 L540.0 264.0 L554.0 256.0 L568.0 252.0 L576.0 250.0" fill="none" stroke="#a0a0a0" stroke-width="7" stroke-linejoin="round" stroke-linecap="round"/>
<path d="M524.0 268.0 L540.0 264.0 L554.0 256.0 L568.0 252.0 L576.0 250.0" fill="none" stroke="#646464" stroke-width="5" stroke-linejoin="round" stroke-linecap="round"/>
<path d="M524.0 268.0 L540.0 264.0 L554.0 256.0 L568.0 252.0 L576.0 250.0" fill="none" stroke="#e3e3e3" stroke-width="3" stroke-linejoin="round" stroke-linecap="round"/>
<path d="M517.0 292.0 L529.0 280.0 L544.0 269.5 L560.0 264.0 L572.0 258.0 L576.0 254.0" fill="none" stroke="#e8b838" stroke-width="14" stroke-linejoin="round" stroke-linecap="round"/>
<path d="M517.0 292.0 L529.0 280.0 L544.0 269.5 L560.0 264.0 L572.0 258.0 L576.0 254.0" fill="none" stroke="#f0e6a8" stroke-width="12" stroke-linejoin="round" stroke-linecap="round"/>
<path d="M517.0 292.0 L529.0 280.0 L544.0 269.5 L560.0 264.0 L572.0 258.0 L576.0 254.0" fill="none" stroke="#c8c8c8" stroke-width="10" stroke-linejoin="round" stroke-linecap="round"/>
<path d="M517.0 292.0 L529.0 280.0 L544.0 269.5 L560.0 264.0 L572.0 258.0 L576.0 254.0" fill="none" stroke="#a0a0a0" stroke-width="8" stroke-linejoin="round" stroke-linecap="round"/>
<path d="M517.0 292.0 L529.0 280.0 L544.0 269.5 L560.0 264.0 L572.0 258.0 L576.0 254.0" fill="none" stroke="#646464" stroke-width="6" stroke-linejoin="round" stroke-linecap="round"/>
<path d="M517.0 292.0 L529.0 280.0 L544.0 269.5 L560.0 264.0 L572.0 258.0 L576.0 254.0" fill="none" stroke="#e3e3e3" stroke-width="4" stroke-linejoin="round" stroke-linecap="round"/>
<path d="M466.0 310.0 L481.0 298.0" fill="none" stroke="#e8b838" stroke-width="13" stroke-linejoin="round" stroke-linecap="round"/>
<path d="M466.0 310.0 L481.0 298.0" fill="none" stroke="#f0e6a8" stroke-width="11" stroke-linejoin="round" stroke-linecap="round"/>
<path d="M466.0 310.0 L481.0 298.0" fill="none" stroke="#c8c8c8" stroke-width="9" stroke-linejoin="round" stroke-linecap="round"/>
<path d="M466.0 310.0 L481.0 298.0" fill="none" stroke="#a0a0a0" stroke-width="7" stroke-linejoin="round" stroke-linecap="round"/>
<path d="M466.0 310.0 L481.0 298.0" fill="none" stroke="#646464" stroke-width="5" stroke-linejoin="round" stroke-linecap="round"/>
<path d="M466.0 310.0 L481.0 298.0" fill="none" stroke="#e3e3e3" stroke-width="3" stroke-linejoin="round" stroke-linecap="round"/>
<path d="M508.0 301.0 L508.0 320.0 L510.0 338.0" fill="none" stroke="#e8b838" stroke-width="14" stroke-linejoin="round" stroke-linecap="round"/>
<path d="M508.0 301.0 L508.0 320.0 L510.0 338.0" fill="none" stroke="#f0e6a8" stroke-width="12" stroke-linejoin="round" stroke-linecap="round"/>
<path d="M508.0 301.0 L508.0 320.0 L510.0 338.0" fill="none" stroke="#c8c8c8" stroke-width="10" stroke-linejoin="round" stroke-linecap="round"/>
<path d="M508.0 301.0 L508.0 320.0 L510.0 338.0" fill="none" stroke="#a0a0a0" stroke-width="8" stroke-linejoin="round" stroke-linecap="round"/>
<path d="M508.0 301.0 L508.0 320.0 L510.0 338.0" fill="none" stroke="#646464" stroke-width="6" stroke-linejoin="round" stroke-linecap="round"/>
<path d="M508.0 301.0 L508.0 320.0 L510.0 338.0" fill="none" stroke="#e3e3e3" stroke-width="4" stroke-linejoin="round" stroke-linecap="round"/>
<path d="M445.0 252.0 L446.0 262.0 L444.0 272.0" fill="none" stroke="#e8b838" stroke-width="13" stroke-linejoin="round" stroke-linecap="round"/>
<path d="M445.0 252.0 L446.0 262.0 L444.0 272.0" fill="none" stroke="#f0e6a8" stroke-width="11" stroke-linejoin="round" stroke-linecap="round"/>
<path d="M445.0 252.0 L446.0 262.0 L444.0 272.0" fill="none" stroke="#c8c8c8" stroke-width="9" stroke-linejoin="round" stroke-linecap="round"/>
<path d="M445.0 252.0 L446.0 262.0 L444.0 272.0" fill="none" stroke="#a0a0a0" stroke-width="7" stroke-linejoin="round" stroke-linecap="round"/>
<path d="M445.0 252.0 L446.0 262.0 L444.0 272.0" fill="none" stroke="#646464" stroke-width="5" stroke-linejoin="round" stroke-linecap="round"/>
<path d="M445.0 252.0 L446.0 262.0 L444.0 272.0" fill="none" stroke="#e3e3e3" stroke-width="3" stroke-linejoin="round" stroke-linecap="round"/>
<path d="M486.0 278.0 L500.0 288.0 L516.0 292.0 L530.0 284.0" fill="none" stroke="#e8b838" stroke-width="16" stroke-linejoin="round" stroke-linecap="round"/>
<path d="M486.0 278.0 L500.0 288.0 L516.0 292.0 L530.0 284.0" fill="none" stroke="#f0e6a8" stroke-width="14" stroke-linejoin="round" stroke-linecap="round"/>
<path d="M486.0 278.0 L500.0 288.0 L516.0 292.0 L530.0 284.0" fill="none" stroke="#c8c8c8" stroke-width="12" stroke-linejoin="round" stroke-linecap="round"/>
<path d="M486.0 278.0 L500.0 288.0 L516.0 292.0 L530.0 284.0" fill="none" stroke="#a0a0a0" stroke-width="10" stroke-linejoin="round" stroke-linecap="round"/>
<path d="M486.0 278.0 L500.0 288.0 L516.0 292.0 L530.0 284.0" fill="none" stroke="#646464" stroke-width="8" stroke-linejoin="round" stroke-linecap="round"/>
<path d="M486.0 278.0 L500.0 288.0 L516.0 292.0 L530.0 284.0" fill="none" stroke="#e3e3e3" stroke-width="6" stroke-linejoin="round" stroke-linecap="round"/>
<path d="M498.0 300.0 L506.0 292.0" fill="none" stroke="#e8b838" stroke-width="14" stroke-linejoin="round" stroke-linecap="round"/>
<path d="M498.0 300.0 L506.0 292.0" fill="none" stroke="#f0e6a8" stroke-width="12" stroke-linejoin="round" stroke-linecap="round"/>
<path d="M498.0 300.0 L506.0 292.0" fill="none" stroke="#c8c8c8" stroke-width="10" stroke-linejoin="round" stroke-linecap="round"/>
<path d="M498.0 300.0 L506.0 292.0" fill="none" stroke="#a0a0a0" stroke-width="8" stroke-linejoin="round" stroke-linecap="round"/>
<path d="M498.0 300.0 L506.0 292.0" fill="none" stroke="#646464" stroke-width="6" stroke-linejoin="round" stroke-linecap="round"/>
<path d="M498.0 300.0 L506.0 292.0" fill="none" stroke="#e3e3e3" stroke-width="4" stroke-linejoin="round" stroke-linecap="round"/>
<path d="M433.0 280.0 L434.0 281.0" fill="none" stroke="#e8b838" stroke-width="11" stroke-linejoin="round" stroke-linecap="round"/>
<path d="M433.0 280.0 L434.0 281.0" fill="none" stroke="#f0e6a8" stroke-width="9" stroke-linejoin="round" stroke-linecap="round"/>
<path d="M433.0 280.0 L434.0 281.0" fill="none" stroke="#c8c8c8" stroke-width="7" stroke-linejoin="round" stroke-linecap="round"/>
<path d="M433.0 280.0 L434.0 281.0" fill="none" stroke="#a0a0a0" stroke-width="5" stroke-linejoin="round" stroke-linecap="round"/>
<path d="M433.0 280.0 L434.0 281.0" fill="none" stroke="#646464" stroke-width="3" stroke-linejoin="round" stroke-linecap="round"/>
<path d="M433.0 280.0 L434.0 281.0" fill="none" stroke="#e3e3e3" stroke-width="1" stroke-linejoin="round" stroke-linecap="round"/>
<path d="M440.5 287.5 L441.0 288.0" fill="none" stroke="#e8b838" stroke-width="11" stroke-linejoin="round" stroke-linecap="round"/>
<path d="M440.5 287.5 L441.0 288.0" fill="none" stroke="#f0e6a8" stroke-width="9" stroke-linejoin="round" stroke-linecap="round"/>
<path d="M440.5 287.5 L441.0 288.0" fill="none" stroke="#c8c8c8" stroke-width="7" stroke-linejoin="round" stroke-linecap="round"/>
<path d="M440.5 287.5 L441.0 288.0" fill="none" stroke="#a0a0a0" stroke-width="5" stroke-linejoin="round" stroke-linecap="round"/>
<path d="M440.5 287.5 L441.0 288.0" fill="none" stroke="#646464" stroke-width="3" stroke-linejoin="round" stroke-linecap="round"/>
<path d="M440.5 287.5 L441.0 288.0" fill="none" stroke="#e3e3e3" stroke-width="1" stroke-linejoin="round" stroke-linecap="round"/>
<path d="M460.0 292.0 L461.0 293.0" fill="none" stroke="#e8b838" stroke-width="11" stroke-linejoin="round" stroke-linecap="round"/>
<path d="M460.0 292.0 L461.0 293.0" fill="none" stroke="#f0e6a8" stroke-width="9" stroke-linejoin="round" stroke-linecap="round"/>
<path d="M460.0 292.0 L461.0 293.0" fill="none" stroke="#c8c8c8" stroke-width="7" stroke-linejoin="round" stroke-linecap="round"/>
<path d="M460.0 292.0 L461.0 293.0" fill="none" stroke="#a0a0a0" stroke-width="5" stroke-linejoin="round" stroke-linecap="round"/>
<path d="M460.0 292.0 L461.0 293.0" fill="none" stroke="#646464" stroke-width="3" stroke-linejoin="round" stroke-linecap="round"/>
<path d="M460.0 292.0 L461.0 293.0" fill="none" stroke="#e3e3e3" stroke-width="1" stroke-linejoin="round" stroke-linecap="round"/>
<path d="M506.5 268.0 L507.0 269.0" fill="none" stroke="#e8b838" stroke-width="11" stroke-linejoin="round" stroke-linecap="round"/>
<path d="M506.5 268.0 L507.0 269.0" fill="none" stroke="#f0e6a8" stroke-width="9" stroke-linejoin="round" stroke-linecap="round"/>
<path d="M506.5 268.0 L507.0 269.0" fill="none" stroke="#c8c8c8" stroke-width="7" stroke-linejoin="round" stroke-linecap="round"/>
<path d="M506.5 268.0 L507.0 269.0" fill="none" stroke="#a0a0a0" stroke-width="5" stroke-linejoin="round" stroke-linecap="round"/>
<path d="M506.5 268.0 L507.0 269.0" fill="none" stroke="#646464" stroke-width="3" stroke-linejoin="round" stroke-linecap="round"/>
<path d="M506.5 268.0 L507.0 269.0" fill="none" stroke="#e3e3e3" stroke-width="1" stroke-linejoin="round" stroke-linecap="round"/>
<path d="M564.0 272.0 L565.0 273.0" fill="none" stroke="#e8b838" stroke-width="10" stroke-linejoin="round" stroke-linecap="round"/>
<path d="M564.0 272.0 L565.0 273.0" fill="none" stroke="#f0e6a8" stroke-width="8" stroke-linejoin="round" stroke-linecap="round"/>
<path d="M564.0 272.0 L565.0 273.0" fill="none" stroke="#c8c8c8" stroke-width="6" stroke-linejoin="round" stroke-linecap="round"/>
<path d="M564.0 272.0 L565.0 273.0" fill="none" stroke="#a0a0a0" stroke-width="4" stroke-linejoin="round" stroke-linecap="round"/>
<path d="M564.0 272.0 L565.0 273.0" fill="none" stroke="#646464" stroke-width="2" stroke-linejoin="round" stroke-linecap="round"/>
<path d="M558.0 294.0 L559.0 295.0" fill="none" stroke="#e8b838" stroke-width="10" stroke-linejoin="round" stroke-linecap="round"/>
<path d="M558.0 294.0 L559.0 295.0" fill="none" stroke="#f0e6a8" stroke-width="8" stroke-linejoin="round" stroke-linecap="round"/>
<path d="M558.0 294.0 L559.0 295.0" fill="none" stroke="#c8c8c8" stroke-width="6" stroke-linejoin="round" stroke-linecap="round"/>
<path d="M558.0 294.0 L559.0 295.0" fill="none" stroke="#a0a0a0" stroke-width="4" stroke-linejoin="round" stroke-linecap="round"/>
<path d="M558.0 294.0 L559.0 295.0" fill="none" stroke="#646464" stroke-width="2" stroke-linejoin="round" stroke-linecap="round"/>
<path d="M596.0 246.0 L597.0 247.0" fill="none" stroke="#e8b838" stroke-width="10" stroke-linejoin="round" stroke-linecap="round"/>
<path d="M596.0 246.0 L597.0 247.0" fill="none" stroke="#f0e6a8" stroke-width="8" stroke-linejoin="round" stroke-linecap="round"/>
<path d="M596.0 246.0 L597.0 247.0" fill="none" stroke="#c8c8c8" stroke-width="6" stroke-linejoin="round" stroke-linecap="round"/>
<path d="M596.0 246.0 L597.0 247.0" fill="none" stroke="#a0a0a0" stroke-width="4" stroke-linejoin="round" stroke-linecap="round"/>
<path d="M596.0 246.0 L597.0 247.0" fill="none" stroke="#646464" stroke-width="2" stroke-linejoin="round" stroke-linecap="round"/>
<path d="M606.0 238.0 L607.0 239.0" fill="none" stroke="#e8b838" stroke-width="10" stroke-linejoin="round" stroke-linecap="round"/>
<path d="M606.0 238.0 L607.0 239.0" fill="none" stroke="#f0e6a8" stroke-width="8" stroke-linejoin="round" stroke-linecap="round"/>
<path d="M606.0 238.0 L607.0 239.0" fill="none" stroke="#c8c8c8" stroke-width="6" stroke-linejoin="round" stroke-linecap="round"/>
<path d="M606.0 238.0 L607.0 239.0" fill="none" stroke="#a0a0a0" stroke-width="4" stroke-linejoin="round" stroke-linecap="round"/>
<path d="M606.0 238.0 L607.0 239.0" fill="none" stroke="#646464" stroke-width="2" stroke-linejoin="round" stroke-linecap="round"/>
<path d="M560.0 238.0 L572.0 240.0" fill="none" stroke="#e8b838" stroke-width="11" stroke-linejoin="round" stroke-linecap="round"/>
<path d="M560.0 238.0 L572.0 240.0" fill="none" stroke="#f0e6a8" stroke-width="9" stroke-linejoin="round" stroke-linecap="round"/>
<path d="M560.0 238.0 L572.0 240.0" fill="none" stroke="#c8c8c8" stroke-width="7" stroke-linejoin="round" stroke-linecap="round"/>
<path d="M560.0 238.0 L572.0 240.0" fill="none" stroke="#a0a0a0" stroke-width="5" stroke-linejoin="round" stroke-linecap="round"/>
<path d="M560.0 238.0 L572.0 240.0" fill="none" stroke="#646464" stroke-width="3" stroke-linejoin="round" stroke-linecap="round"/>
<path d="M560.0 238.0 L572.0 240.0" fill="none" stroke="#e3e3e3" stroke-width="1" stroke-linejoin="round" stroke-linecap="round"/>
<path d="M486.8 214.3 L481.3 228.0 L467.5 239.0 L456.5 241.8" fill="none" stroke="#e8b838" stroke-width="12" stroke-linejoin="round" stroke-linecap="round"/>
<path d="M486.8 214.3 L481.3 228.0 L467.5 239.0 L456.5 241.8" fill="none" stroke="#f0e6a8" stroke-width="10" stroke-linejoin="round" stroke-linecap="round"/>
<path d="M486.8 214.3 L481.3 228.0 L467.5 239.0 L456.5 241.8" fill="none" stroke="#c8c8c8" stroke-width="8" stroke-linejoin="round" stroke-linecap="round"/>
<path d="M486.8 214.3 L481.3 228.0 L467.5 239.0 L456.5 241.8" fill="none" stroke="#a0a0a0" stroke-width="6" stroke-linejoin="round" stroke-linecap="round"/>
<path d="M486.8 214.3 L481.3 228.0 L467.5 239.0 L456.5 241.8" fill="none" stroke="#646464" stroke-width="4" stroke-linejoin="round" stroke-linecap="round"/>
<path d="M486.8 214.3 L481.3 228.0 L467.5 239.0 L456.5 241.8" fill="none" stroke="#e3e3e3" stroke-width="2" stroke-linejoin="round" stroke-linecap="round"/>
<path d="M481.3 230.8 L495.0 241.8 L503.3 258.0" fill="none" stroke="#e8b838" stroke-width="11" stroke-linejoin="round" stroke-linecap="round"/>
<path d="M481.3 230.8 L495.0 241.8 L503.3 258.0" fill="none" stroke="#f0e6a8" stroke-width="9" stroke-linejoin="round" stroke-linecap="round"/>
<path d="M481.3 230.8 L495.0 241.8 L503.3 258.0" fill="none" stroke="#c8c8c8" stroke-width="7" stroke-linejoin="round" stroke-linecap="round"/>
<path d="M481.3 230.8 L495.0 241.8 L503.3 258.0" fill="none" stroke="#a0a0a0" stroke-width="5" stroke-linejoin="round" stroke-linecap="round"/>
<path d="M481.3 230.8 L495.0 241.8 L503.3 258.0" fill="none" stroke="#646464" stroke-width="3" stroke-linejoin="round" stroke-linecap="round"/>
<path d="M481.3 230.8 L495.0 241.8 L503.3 258.0" fill="none" stroke="#e3e3e3" stroke-width="1" stroke-linejoin="round" stroke-linecap="round"/>
<path d="M594.0 244.5 L596.0 246.0" fill="none" stroke="#e8b838" stroke-width="10" stroke-linejoin="round" stroke-linecap="round"/>
<path d="M594.0 244.5 L596.0 246.0" fill="none" stroke="#f0e6a8" stroke-width="8" stroke-linejoin="round" stroke-linecap="round"/>
<path d="M594.0 244.5 L596.0 246.0" fill="none" stroke="#c8c8c8" stroke-width="6" stroke-linejoin="round" stroke-linecap="round"/>
<path d="M594.0 244.5 L596.0 246.0" fill="none" stroke="#a0a0a0" stroke-width="4" stroke-linejoin="round" stroke-linecap="round"/>
<path d="M594.0 244.5 L596.0 246.0" fill="none" stroke="#646464" stroke-width="2" stroke-linejoin="round" stroke-linecap="round"/>
<path d="M418.0 340.0 L428.0 332.0 L440.0 322.0" fill="none" stroke="#e8b838" stroke-width="13" stroke-linejoin="round" stroke-linecap="round"/>
<path d="M418.0 340.0 L428.0 332.0 L440.0 322.0" fill="none" stroke="#f0e6a8" stroke-width="11" stroke-linejoin="round" stroke-linecap="round"/>
<path d="M418.0 340.0 L428.0 332.0 L440.0 322.0" fill="none" stroke="#c8c8c8" stroke-width="9" stroke-linejoin="round" stroke-linecap="round"/>
<path d="M418.0 340.0 L428.0 332.0 L440.0 322.0" fill="none" stroke="#a0a0a0" stroke-width="7" stroke-linejoin="round" stroke-linecap="round"/>
<path d="M418.0 340.0 L428.0 332.0 L440.0 322.0" fill="none" stroke="#646464" stroke-width="5" stroke-linejoin="round" stroke-linecap="round"/>
<path d="M418.0 340.0 L428.0 332.0 L440.0 322.0" fill="none" stroke="#e3e3e3" stroke-width="3" stroke-linejoin="round" stroke-linecap="round"/>
<path d="M467.0 309.0 L475.0 303.0 L483.0 298.0" fill="none" stroke="#e8b838" stroke-width="13" stroke-linejoin="round" stroke-linecap="round"/>
<path d="M467.0 309.0 L475.0 303.0 L483.0 298.0" fill="none" stroke="#f0e6a8" stroke-width="11" stroke-linejoin="round" stroke-linecap="round"/>
<path d="M467.0 309.0 L475.0 303.0 L483.0 298.0" fill="none" stroke="#c8c8c8" stroke-width="9" stroke-linejoin="round" stroke-linecap="round"/>
<path d="M467.0 309.0 L475.0 303.0 L483.0 298.0" fill="none" stroke="#a0a0a0" stroke-width="7" stroke-linejoin="round" stroke-linecap="round"/>
<path d="M467.0 309.0 L475.0 303.0 L483.0 298.0" fill="none" stroke="#646464" stroke-width="5" stroke-linejoin="round" stroke-linecap="round"/>
<path d="M467.0 309.0 L475.0 303.0 L483.0 298.0" fill="none" stroke="#e3e3e3" stroke-width="3" stroke-linejoin="round" stroke-linecap="round"/>
<path d="M452.0 322.0 L458.0 318.0" fill="none" stroke="#e8b838" stroke-width="11" stroke-linejoin="round" stroke-linecap="round"/>
<path d="M452.0 322.0 L458.0 318.0" fill="none" stroke="#f0e6a8" stroke-width="9" stroke-linejoin="round" stroke-linecap="round"/>
<path d="M452.0 322.0 L458.0 318.0" fill="none" stroke="#c8c8c8" stroke-width="7" stroke-linejoin="round" stroke-linecap="round"/>
<path d="M452.0 322.0 L458.0 318.0" fill="none" stroke="#a0a0a0" stroke-width="5" stroke-linejoin="round" stroke-linecap="round"/>
<path d="M452.0 322.0 L458.0 318.0" fill="none" stroke="#646464" stroke-width="3" stroke-linejoin="round" stroke-linecap="round"/>
<path d="M452.0 322.0 L458.0 318.0" fill="none" stroke="#e3e3e3" stroke-width="1" stroke-linejoin="round" stroke-linecap="round"/>
<path d="M378.0 338.0 L388.0 342.0 L398.0 347.0" fill="none" stroke="#e8b838" stroke-width="14" stroke-linejoin="round" stroke-linecap="round"/>
<path d="M378.0 338.0 L388.0 342.0 L398.0 347.0" fill="none" stroke="#f0e6a8" stroke-width="12" stroke-linejoin="round" stroke-linecap="round"/>
<path d="M378.0 338.0 L388.0 342.0 L398.0 347.0" fill="none" stroke="#c8c8c8" stroke-width="10" stroke-linejoin="round" stroke-linecap="round"/>
<path d="M378.0 338.0 L388.0 342.0 L398.0 347.0" fill="none" stroke="#a0a0a0" stroke-width="8" stroke-linejoin="round" stroke-linecap="round"/>
<path d="M378.0 338.0 L388.0 342.0 L398.0 347.0" fill="none" stroke="#646464" stroke-width="6" stroke-linejoin="round" stroke-linecap="round"/>
<path d="M378.0 338.0 L388.0 342.0 L398.0 347.0" fill="none" stroke="#e3e3e3" stroke-width="4" stroke-linejoin="round" stroke-linecap="round"/>
<path d="M478.0 140.0 L490.0 143.0 L512.0 146.0 L530.0 147.0 L548.0 142.0" fill="none" stroke="#e8b838" stroke-width="12" stroke-linejoin="round" stroke-linecap="round"/>
<path d="M478.0 140.0 L490.0 143.0 L512.0 146.0 L530.0 147.0 L548.0 142.0" fill="none" stroke="#f0e6a8" stroke-width="10" stroke-linejoin="round" stroke-linecap="round"/>
<path d="M478.0 140.0 L490.0 143.0 L512.0 146.0 L530.0 147.0 L548.0 142.0" fill="none" stroke="#c8c8c8" stroke-width="8" stroke-linejoin="round" stroke-linecap="round"/>
<path d="M478.0 140.0 L490.0 143.0 L512.0 146.0 L530.0 147.0 L548.0 142.0" fill="none" stroke="#a0a0a0" stroke-width="6" stroke-linejoin="round" stroke-linecap="round"/>
<path d="M478.0 140.0 L490.0 143.0 L512.0 146.0 L530.0 147.0 L548.0 142.0" fill="none" stroke="#646464" stroke-width="4" stroke-linejoin="round" stroke-linecap="round"/>
<path d="M478.0 140.0 L490.0 143.0 L512.0 146.0 L530.0 147.0 L548.0 142.0" fill="none" stroke="#e3e3e3" stroke-width="2" stroke-linejoin="round" stroke-linecap="round"/>
<path d="M519.7 162.7 L520.0 163.0" fill="none" stroke="#e8b838" stroke-width="10" stroke-linejoin="round" stroke-linecap="round"/>
<path d="M519.7 162.7 L520.0 163.0" fill="none" stroke="#f0e6a8" stroke-width="8" stroke-linejoin="round" stroke-linecap="round"/>
<path d="M519.7 162.7 L520.0 163.0" fill="none" stroke="#c8c8c8" stroke-width="6" stroke-linejoin="round" stroke-linecap="round"/>
<path d="M519.7 162.7 L520.0 163.0" fill="none" stroke="#a0a0a0" stroke-width="4" stroke-linejoin="round" stroke-linecap="round"/>
<path d="M519.7 162.7 L520.0 163.0" fill="none" stroke="#646464" stroke-width="2" stroke-linejoin="round" stroke-linecap="round"/>
<path d="M528.0 151.7 L528.5 152.0" fill="none" stroke="#e8b838" stroke-width="10" stroke-linejoin="round" stroke-linecap="round"/>
<path d="M528.0 151.7 L528.5 152.0" fill="none" stroke="#f0e6a8" stroke-width="8" stroke-linejoin="round" stroke-linecap="round"/>
<path d="M528.0 151.7 L528.5 152.0" fill="none" stroke="#c8c8c8" stroke-width="6" stroke-linejoin="round" stroke-linecap="round"/>
<path d="M528.0 151.7 L528.5 152.0" fill="none" stroke="#a0a0a0" stroke-width="4" stroke-linejoin="round" stroke-linecap="round"/>
<path d="M528.0 151.7 L528.5 152.0" fill="none" stroke="#646464" stroke-width="2" stroke-linejoin="round" stroke-linecap="round"/>
<path d="M646.0 172.0 L646.5 172.5" fill="none" stroke="#e8b838" stroke-width="10" stroke-linejoin="round" stroke-linecap="round"/>
<path d="M646.0 172.0 L646.5 172.5" fill="none" stroke="#f0e6a8" stroke-width="8" stroke-linejoin="round" stroke-linecap="round"/>
<path d="M646.0 172.0 L646.5 172.5" fill="none" stroke="#c8c8c8" stroke-width="6" stroke-linejoin="round" stroke-linecap="round"/>
<path d="M646.0 172.0 L646.5 172.5" fill="none" stroke="#a0a0a0" stroke-width="4" stroke-linejoin="round" stroke-linecap="round"/>
<path d="M646.0 172.0 L646.5 172.5" fill="none" stroke="#646464" stroke-width="2" stroke-linejoin="round" stroke-linecap="round"/>
<path d="M495.0 150.0 L500.0 156.0" fill="none" stroke="#e8b838" stroke-width="11" stroke-linejoin="round" stroke-linecap="round"/>
<path d="M495.0 150.0 L500.0 156.0" fill="none" stroke="#f0e6a8" stroke-width="9" stroke-linejoin="round" stroke-linecap="round"/>
<path d="M495.0 150.0 L500.0 156.0" fill="none" stroke="#c8c8c8" stroke-width="7" stroke-linejoin="round" stroke-linecap="round"/>
<path d="M495.0 150.0 L500.0 156.0" fill="none" stroke="#a0a0a0" stroke-width="5" stroke-linejoin="round" stroke-linecap="round"/>
<path d="M495.0 150.0 L500.0 156.0" fill="none" stroke="#646464" stroke-width="3" stroke-linejoin="round" stroke-linecap="round"/>
<path d="M495.0 150.0 L500.0 156.0" fill="none" stroke="#e3e3e3" stroke-width="1" stroke-linejoin="round" stroke-linecap="round"/>
<path d="M480.0 180.0 L486.0 186.0 L490.0 190.0" fill="none" stroke="#e8b838" stroke-width="11" stroke-linejoin="round" stroke-linecap="round"/>
<path d="M480.0 180.0 L486.0 186.0 L490.0 190.0" fill="none" stroke="#f0e6a8" stroke-width="9" stroke-linejoin="round" stroke-linecap="round"/>
<path d="M480.0 180.0 L486.0 186.0 L490.0 190.0" fill="none" stroke="#c8c8c8" stroke-width="7" stroke-linejoin="round" stroke-linecap="round"/>
<path d="M480.0 180.0 L486.0 186.0 L490.0 190.0" fill="none" stroke="#a0a0a0" stroke-width="5" stroke-linejoin="round" stroke-linecap="round"/>
<path d="M480.0 180.0 L486.0 186.0 L490.0 190.0" fill="none" stroke="#646464" stroke-width="3" stroke-linejoin="round" stroke-linecap="round"/>
<path d="M480.0 180.0 L486.0 186.0 L490.0 190.0" fill="none" stroke="#e3e3e3" stroke-width="1" stroke-linejoin="round" stroke-linecap="round"/>
<path d="M430.0 158.0 L445.0 152.0" fill="none" stroke="#e8b838" stroke-width="10" stroke-linejoin="round" stroke-linecap="round"/>
<path d="M430.0 158.0 L445.0 152.0" fill="none" stroke="#f0e6a8" stroke-width="8" stroke-linejoin="round" stroke-linecap="round"/>
<path d="M430.0 158.0 L445.0 152.0" fill="none" stroke="#c8c8c8" stroke-width="6" stroke-linejoin="round" stroke-linecap="round"/>
<path d="M430.0 158.0 L445.0 152.0" fill="none" stroke="#a0a0a0" stroke-width="4" stroke-linejoin="round" stroke-linecap="round"/>
<path d="M430.0 158.0 L445.0 152.0" fill="none" stroke="#646464" stroke-width="2" stroke-linejoin="round" stroke-linecap="round"/>
<path d="M380.0 200.0 L395.0 196.0" fill="none" stroke="#e8b838" stroke-width="10" stroke-linejoin="round" stroke-linecap="round"/>
<path d="M380.0 200.0 L395.0 196.0" fill="none" stroke="#f0e6a8" stroke-width="8" stroke-linejoin="round" stroke-linecap="round"/>
<path d="M380.0 200.0 L395.0 196.0" fill="none" stroke="#c8c8c8" stroke-width="6" stroke-linejoin="round" stroke-linecap="round"/>
<path d="M380.0 200.0 L395.0 196.0" fill="none" stroke="#a0a0a0" stroke-width="4" stroke-linejoin="round" stroke-linecap="round"/>
<path d="M380.0 200.0 L395.0 196.0" fill="none" stroke="#646464" stroke-width="2" stroke-linejoin="round" stroke-linecap="round"/>
<path d="M360.0 196.0 L370.0 194.0" fill="none" stroke="#e8b838" stroke-width="10" stroke-linejoin="round" stroke-linecap="round"/>
<path d="M360.0 196.0 L370.0 194.0" fill="none" stroke="#f0e6a8" stroke-width="8" stroke-linejoin="round" stroke-linecap="round"/>
<path d="M360.0 196.0 L370.0 194.0" fill="none" stroke="#c8c8c8" stroke-width="6" stroke-linejoin="round" stroke-linecap="round"/>
<path d="M360.0 196.0 L370.0 194.0" fill="none" stroke="#a0a0a0" stroke-width="4" stroke-linejoin="round" stroke-linecap="round"/>
<path d="M360.0 196.0 L370.0 194.0" fill="none" stroke="#646464" stroke-width="2" stroke-linejoin="round" stroke-linecap="round"/>
<path d="M640.0 355.0 L646.0 348.0 L650.0 340.0" fill="none" stroke="#e8b838" stroke-width="10" stroke-linejoin="round" stroke-linecap="round"/>
<path d="M640.0 355.0 L646.0 348.0 L650.0 340.0" fill="none" stroke="#f0e6a8" stroke-width="8" stroke-linejoin="round" stroke-linecap="round"/>
<path d="M640.0 355.0 L646.0 348.0 L650.0 340.0" fill="none" stroke="#c8c8c8" stroke-width="6" stroke-linejoin="round" stroke-linecap="round"/>
<path d="M640.0 355.0 L646.0 348.0 L650.0 340.0" fill="none" stroke="#a0a0a0" stroke-width="4" stroke-linejoin="round" stroke-linecap="round"/>
<path d="M640.0 355.0 L646.0 348.0 L650.0 340.0" fill="none" stroke="#646464" stroke-width="2" stroke-linejoin="round" stroke-linecap="round"/>
<path d="M625.0 362.0 L630.0 368.0" fill="none" stroke="#e8b838" stroke-width="10" stroke-linejoin="round" stroke-linecap="round"/>
<path d="M625.0 362.0 L630.0 368.0" fill="none" stroke="#f0e6a8" stroke-width="8" stroke-linejoin="round" stroke-linecap="round"/>
<path d="M625.0 362.0 L630.0 368.0" fill="none" stroke="#c8c8c8" stroke-width="6" stroke-linejoin="round" stroke-linecap="round"/>
<path d="M625.0 362.0 L630.0 368.0" fill="none" stroke="#a0a0a0" stroke-width="4" stroke-linejoin="round" stroke-linecap="round"/>
<path d="M625.0 362.0 L630.0 368.0" fill="none" stroke="#646464" stroke-width="2" stroke-linejoin="round" stroke-linecap="round"/>
<path d="M636.0 321.0 L640.0 323.0" fill="none" stroke="#e8b838" stroke-width="11" stroke-linejoin="round" stroke-linecap="round"/>
<path d="M636.0 321.0 L640.0 323.0" fill="none" stroke="#f0e6a8" stroke-width="9" stroke-linejoin="round" stroke-linecap="round"/>
<path d="M636.0 321.0 L640.0 323.0" fill="none" stroke="#c8c8c8" stroke-width="7" stroke-linejoin="round" stroke-linecap="round"/>
<path d="M636.0 321.0 L640.0 323.0" fill="none" stroke="#a0a0a0" stroke-width="5" stroke-linejoin="round" stroke-linecap="round"/>
<path d="M636.0 321.0 L640.0 323.0" fill="none" stroke="#646464" stroke-width="3" stroke-linejoin="round" stroke-linecap="round"/>
<path d="M636.0 321.0 L640.0 323.0" fill="none" stroke="#e3e3e3" stroke-width="1" stroke-linejoin="round" stroke-linecap="round"/>
<path d="M604.0 322.0 L612.0 316.0 L622.0 310.0" fill="none" stroke="#e8b838" stroke-width="10" stroke-linejoin="round" stroke-linecap="round"/>
<path d="M604.0 322.0 L612.0 316.0 L622.0 310.0" fill="none" stroke="#f0e6a8" stroke-width="8" stroke-linejoin="round" stroke-linecap="round"/>
<path d="M604.0 322.0 L612.0 316.0 L622.0 310.0" fill="none" stroke="#c8c8c8" stroke-width="6" stroke-linejoin="round" stroke-linecap="round"/>
<path d="M604.0 322.0 L612.0 316.0 L622.0 310.0" fill="none" stroke="#a0a0a0" stroke-width="4" stroke-linejoin="round" stroke-linecap="round"/>
<path d="M604.0 322.0 L612.0 316.0 L622.0 310.0" fill="none" stroke="#646464" stroke-width="2" stroke-linejoin="round" stroke-linecap="round"/>
<path d="M294.0 164.0 L297.0 166.0" fill="none" stroke="#646464" stroke-width="9" stroke-linejoin="round" stroke-linecap="round"/>
<path d="M294.0 164.0 L297.0 166.0" fill="none" stroke="#a0a0a0" stroke-width="7" stroke-linejoin="round" stroke-linecap="round"/>
<path d="M294.0 164.0 L297.0 166.0" fill="none" stroke="#c8c8c8" stroke-width="4" stroke-linejoin="round" stroke-linecap="round"/>
<path d="M306.0 164.0 L318.0 165.0" fill="none" stroke="#646464" stroke-width="9" stroke-linejoin="round" stroke-linecap="round"/>
<path d="M306.0 164.0 L318.0 165.0" fill="none" stroke="#a0a0a0" stroke-width="7" stroke-linejoin="round" stroke-linecap="round"/>
<path d="M306.0 164.0 L318.0 165.0" fill="none" stroke="#c8c8c8" stroke-width="4" stroke-linejoin="round" stroke-linecap="round"/>
<path d="M331.0 177.0 L332.0 178.0" fill="none" stroke="#646464" stroke-width="8" stroke-linejoin="round" stroke-linecap="round"/>
<path d="M331.0 177.0 L332.0 178.0" fill="none" stroke="#a0a0a0" stroke-width="6" stroke-linejoin="round" stroke-linecap="round"/>
<path d="M331.0 177.0 L332.0 178.0" fill="none" stroke="#c8c8c8" stroke-width="3" stroke-linejoin="round" stroke-linecap="round"/>
<path d="M210.0 212.0 L218.0 214.0" fill="none" stroke="#646464" stroke-width="8" stroke-linejoin="round" stroke-linecap="round"/>
<path d="M210.0 212.0 L218.0 214.0" fill="none" stroke="#a0a0a0" stroke-width="6" stroke-linejoin="round" stroke-linecap="round"/>
<path d="M210.0 212.0 L218.0 214.0" fill="none" stroke="#c8c8c8" stroke-width="3" stroke-linejoin="round" stroke-linecap="round"/>
<path d="M198.0 220.0 L203.0 226.0" fill="none" stroke="#646464" stroke-width="7" stroke-linejoin="round" stroke-linecap="round"/>
<path d="M198.0 220.0 L203.0 226.0" fill="none" stroke="#a0a0a0" stroke-width="5" stroke-linejoin="round" stroke-linecap="round"/>
<path d="M198.0 220.0 L203.0 226.0" fill="none" stroke="#c8c8c8" stroke-width="2" stroke-linejoin="round" stroke-linecap="round"/>
<path d="M206.0 204.0 L207.0 205.0" fill="none" stroke="#646464" stroke-width="7" stroke-linejoin="round" stroke-linecap="round"/>
<path d="M206.0 204.0 L207.0 205.0" fill="none" stroke="#a0a0a0" stroke-width="5" stroke-linejoin="round" stroke-linecap="round"/>
<path d="M206.0 204.0 L207.0 205.0" fill="none" stroke="#c8c8c8" stroke-width="2" stroke-linejoin="round" stroke-linecap="round"/>
<path d="M170.0 214.0 L171.0 215.0" fill="none" stroke="#646464" stroke-width="6" stroke-linejoin="round" stroke-linecap="round"/>
<path d="M170.0 214.0 L171.0 215.0" fill="none" stroke="#a0a0a0" stroke-width="4" stroke-linejoin="round" stroke-linecap="round"/>
<path d="M170.0 214.0 L171.0 215.0" fill="none" stroke="#c8c8c8" stroke-width="1" stroke-linejoin="round" stroke-linecap="round"/>
<path d="M158.0 180.0 L160.0 181.0" fill="none" stroke="#646464" stroke-width="6" stroke-linejoin="round" stroke-linecap="round"/>
<path d="M158.0 180.0 L160.0 181.0" fill="none" stroke="#a0a0a0" stroke-width="4" stroke-linejoin="round" stroke-linecap="round"/>
<path d="M158.0 180.0 L160.0 181.0" fill="none" stroke="#c8c8c8" stroke-width="1" stroke-linejoin="round" stroke-linecap="round"/>
<path d="M350.0 196.0 L362.0 198.0" fill="none" stroke="#646464" stroke-width="7" stroke-linejoin="round" stroke-linecap="round"/>
<path d="M350.0 196.0 L362.0 198.0" fill="none" stroke="#a0a0a0" stroke-width="5" stroke-linejoin="round" stroke-linecap="round"/>
<path d="M350.0 196.0 L362.0 198.0" fill="none" stroke="#c8c8c8" stroke-width="2" stroke-linejoin="round" stroke-linecap="round"/>
<path d="M232.0 212.0 L250.0 210.0 L262.0 206.0" fill="none" stroke="#646464" stroke-width="6" stroke-linejoin="round" stroke-linecap="round"/>
<path d="M232.0 212.0 L250.0 210.0 L262.0 206.0" fill="none" stroke="#a0a0a0" stroke-width="4" stroke-linejoin="round" stroke-linecap="round"/>
<path d="M232.0 212.0 L250.0 210.0 L262.0 206.0" fill="none" stroke="#c8c8c8" stroke-width="1" stroke-linejoin="round" stroke-linecap="round"/>
<path d="M138.0 116.0 L142.0 112.0" fill="none" stroke="#646464" stroke-width="6" stroke-linejoin="round" stroke-linecap="round"/>
<path d="M138.0 116.0 L142.0 112.0" fill="none" stroke="#a0a0a0" stroke-width="4" stroke-linejoin="round" stroke-linecap="round"/>
<path d="M138.0 116.0 L142.0 112.0" fill="none" stroke="#c8c8c8" stroke-width="1" stroke-linejoin="round" stroke-linecap="round"/>
<path d="M134.0 320.0 L140.0 326.0" fill="none" stroke="#646464" stroke-width="10" stroke-linejoin="round" stroke-linecap="round"/>
<path d="M134.0 320.0 L140.0 326.0" fill="none" stroke="#a0a0a0" stroke-width="8" stroke-linejoin="round" stroke-linecap="round"/>
<path d="M134.0 320.0 L140.0 326.0" fill="none" stroke="#c8c8c8" stroke-width="5" stroke-linejoin="round" stroke-linecap="round"/>
<path d="M450.0 96.0 L470.0 96.0" fill="none" stroke="#646464" stroke-width="5" stroke-linejoin="round" stroke-linecap="round"/>
<path d="M450.0 96.0 L470.0 96.0" fill="none" stroke="#a0a0a0" stroke-width="3" stroke-linejoin="round" stroke-linecap="round"/>
<path d="M450.0 96.0 L470.0 96.0" fill="none" stroke="#c8c8c8" stroke-width="1" stroke-linejoin="round" stroke-linecap="round"/>
<path d="M452.0 520.0 L458.0 518.0 L462.0 524.0 L460.0 530.0 L454.0 530.0 L452.0 524.0" fill="none" stroke="#646464" stroke-width="10" stroke-linejoin="round" stroke-linecap="round"/>
<path d="M452.0 520.0 L458.0 518.0 L462.0 524.0 L460.0 530.0 L454.0 530.0 L452.0 524.0" fill="none" stroke="#a0a0a0" stroke-width="8" stroke-linejoin="round" stroke-linecap="round"/>
<path d="M452.0 520.0 L458.0 518.0 L462.0 524.0 L460.0 530.0 L454.0 530.0 L452.0 524.0" fill="none" stroke="#c8c8c8" stroke-width="5" stroke-linejoin="round" stroke-linecap="round"/>
<path d="M470.0 520.0 L480.0 518.0 L490.0 520.0 L494.0 524.0" fill="none" stroke="#646464" stroke-width="10" stroke-linejoin="round" stroke-linecap="round"/>
<path d="M470.0 520.0 L480.0 518.0 L490.0 520.0 L494.0 524.0" fill="none" stroke="#a0a0a0" stroke-width="8" stroke-linejoin="round" stroke-linecap="round"/>
<path d="M470.0 520.0 L480.0 518.0 L490.0 520.0 L494.0 524.0" fill="none" stroke="#c8c8c8" stroke-width="5" stroke-linejoin="round" stroke-linecap="round"/>
<path d="M485.0 514.0 L490.0 516.0" fill="none" stroke="#646464" stroke-width="8" stroke-linejoin="round" stroke-linecap="round"/>
<path d="M485.0 514.0 L490.0 516.0" fill="none" stroke="#a0a0a0" stroke-width="6" stroke-linejoin="round" stroke-linecap="round"/>
<path d="M485.0 514.0 L490.0 516.0" fill="none" stroke="#c8c8c8" stroke-width="3" stroke-linejoin="round" stroke-linecap="round"/>
<path d="M468.0 538.0 L470.0 540.0" fill="none" stroke="#646464" stroke-width="7" stroke-linejoin="round" stroke-linecap="round"/>
<path d="M468.0 538.0 L470.0 540.0" fill="none" stroke="#a0a0a0" stroke-width="5" stroke-linejoin="round" stroke-linecap="round"/>
<path d="M468.0 538.0 L470.0 540.0" fill="none" stroke="#c8c8c8" stroke-width="2" stroke-linejoin="round" stroke-linecap="round"/>
<path d="M474.0 512.0 L476.0 516.0" fill="none" stroke="#646464" stroke-width="8" stroke-linejoin="round" stroke-linecap="round"/>
<path d="M474.0 512.0 L476.0 516.0" fill="none" stroke="#a0a0a0" stroke-width="6" stroke-linejoin="round" stroke-linecap="round"/>
<path d="M474.0 512.0 L476.0 516.0" fill="none" stroke="#c8c8c8" stroke-width="3" stroke-linejoin="round" stroke-linecap="round"/>
<path d="M472.0 526.0 L480.0 528.0" fill="none" stroke="#646464" stroke-width="7" stroke-linejoin="round" stroke-linecap="round"/>
<path d="M472.0 526.0 L480.0 528.0" fill="none" stroke="#a0a0a0" stroke-width="5" stroke-linejoin="round" stroke-linecap="round"/>
<path d="M472.0 526.0 L480.0 528.0" fill="none" stroke="#c8c8c8" stroke-width="2" stroke-linejoin="round" stroke-linecap="round"/>
<path d="M489.0 529.0 L492.0 532.0" fill="none" stroke="#646464" stroke-width="7" stroke-linejoin="round" stroke-linecap="round"/>
<path d="M489.0 529.0 L492.0 532.0" fill="none" stroke="#a0a0a0" stroke-width="5" stroke-linejoin="round" stroke-linecap="round"/>
<path d="M489.0 529.0 L492.0 532.0" fill="none" stroke="#c8c8c8" stroke-width="2" stroke-linejoin="round" stroke-linecap="round"/>
<path d="M604.0 388.0 L614.0 386.0 L624.0 388.0" fill="none" stroke="#646464" stroke-width="8" stroke-linejoin="round" stroke-linecap="round"/>
<path d="M604.0 388.0 L614.0 386.0 L624.0 388.0" fill="none" stroke="#a0a0a0" stroke-width="6" stroke-linejoin="round" stroke-linecap="round"/>
<path d="M604.0 388.0 L614.0 386.0 L624.0 388.0" fill="none" stroke="#c8c8c8" stroke-width="3" stroke-linejoin="round" stroke-linecap="round"/>
<path d="M600.0 384.0 L606.0 384.0" fill="none" stroke="#646464" stroke-width="7" stroke-linejoin="round" stroke-linecap="round"/>
<path d="M600.0 384.0 L606.0 384.0" fill="none" stroke="#a0a0a0" stroke-width="5" stroke-linejoin="round" stroke-linecap="round"/>
<path d="M600.0 384.0 L606.0 384.0" fill="none" stroke="#c8c8c8" stroke-width="2" stroke-linejoin="round" stroke-linecap="round"/>
<path d="M631.0 396.0 L632.0 400.0" fill="none" stroke="#646464" stroke-width="7" stroke-linejoin="round" stroke-linecap="round"/>
<path d="M631.0 396.0 L632.0 400.0" fill="none" stroke="#a0a0a0" stroke-width="5" stroke-linejoin="round" stroke-linecap="round"/>
<path d="M631.0 396.0 L632.0 400.0" fill="none" stroke="#c8c8c8" stroke-width="2" stroke-linejoin="round" stroke-linecap="round"/>
<path d="M636.0 470.0 L640.0 472.0" fill="none" stroke="#646464" stroke-width="5" stroke-linejoin="round" stroke-linecap="round"/>
<path d="M636.0 470.0 L640.0 472.0" fill="none" stroke="#a0a0a0" stroke-width="3" stroke-linejoin="round" stroke-linecap="round"/>
<path d="M636.0 470.0 L640.0 472.0" fill="none" stroke="#c8c8c8" stroke-width="1" stroke-linejoin="round" stroke-linecap="round"/>
<path d="M412.0 544.0 L422.0 534.0" fill="none" stroke="#646464" stroke-width="7" stroke-linejoin="round" stroke-linecap="round"/>
<path d="M412.0 544.0 L422.0 534.0" fill="none" stroke="#a0a0a0" stroke-width="5" stroke-linejoin="round" stroke-linecap="round"/>
<path d="M412.0 544.0 L422.0 534.0" fill="none" stroke="#c8c8c8" stroke-width="2" stroke-linejoin="round" stroke-linecap="round"/>
<path d="M426.0 386.0 L430.0 390.0" fill="none" stroke="#646464" stroke-width="8" stroke-linejoin="round" stroke-linecap="round"/>
<path d="M426.0 386.0 L430.0 390.0" fill="none" stroke="#a0a0a0" stroke-width="6" stroke-linejoin="round" stroke-linecap="round"/>
<path d="M426.0 386.0 L430.0 390.0" fill="none" stroke="#c8c8c8" stroke-width="3" stroke-linejoin="round" stroke-linecap="round"/>
<path d="M456.0 362.0 L462.0 364.0" fill="none" stroke="#646464" stroke-width="6" stroke-linejoin="round" stroke-linecap="round"/>
<path d="M456.0 362.0 L462.0 364.0" fill="none" stroke="#a0a0a0" stroke-width="4" stroke-linejoin="round" stroke-linecap="round"/>
<path d="M456.0 362.0 L462.0 364.0" fill="none" stroke="#c8c8c8" stroke-width="1" stroke-linejoin="round" stroke-linecap="round"/>
<path d="M424.0 525.0 L426.0 527.0" fill="none" stroke="#646464" stroke-width="7" stroke-linejoin="round" stroke-linecap="round"/>
<path d="M424.0 525.0 L426.0 527.0" fill="none" stroke="#a0a0a0" stroke-width="5" stroke-linejoin="round" stroke-linecap="round"/>
<path d="M424.0 525.0 L426.0 527.0" fill="none" stroke="#c8c8c8" stroke-width="2" stroke-linejoin="round" stroke-linecap="round"/>
<path d="M366.8 362.0 L374.1 360.6 L377.7 367.9 L377.0 378.0 L379.2 391.2 L377.0 398.5 L374.1 408.7 L365.4 411.6 L353.7 411.6 L343.5 407.2 L339.1 398.5 L346.4 392.6 L353.7 385.4 L359.5 376.6 L361.0 367.9 Z" fill="#eedc9c" stroke="#f2eab8" stroke-width="4" stroke-linejoin="round"/>
<path d="M366.8 370.8 L375.6 373.7 L378.5 388.3 L375.6 397.0 L365.4 398.5 L358.1 394.1 L362.4 385.4 Z" fill="#e8c060" stroke="#e8cc78" stroke-width="4" stroke-linejoin="round"/>
<path d="M134.0 226.0 L135.9 227.2 L153.4 233.0 L169.0 240.8 L178.7 246.6 L178.7 254.4 L163.2 250.5 L149.5 244.7 L136.0 238.9 L134.0 238.0 Z" fill="#f2eec0" stroke="#f0e4b0" stroke-width="4" stroke-linejoin="round"/>
<path d="M393.8 327.0 L400.0 319.0 L406.0 327.0 Z" fill="#e3e3e3" stroke="#646464" stroke-width="3" stroke-linejoin="round"/>
<path d="M406.0 343.0 L410.0 334.0 L416.5 336.0 L412.0 344.0 Z" fill="#e3e3e3" stroke="#646464" stroke-width="3" stroke-linejoin="round"/>
<path d="M362.0 341.0 L367.0 334.0 L370.0 341.0 Z" fill="#e3e3e3" stroke="#646464" stroke-width="3" stroke-linejoin="round"/>
<path d="M336.2 366.4 L356.6 365.0 L358.1 372.2 L352.2 381.0 L346.4 386.8 L342.1 383.9 L337.7 375.2 Z" fill="#e3e3e3" stroke="#646464" stroke-width="3" stroke-linejoin="round"/>
<path d="M374.1 346.0 L385.8 344.6 L390.1 353.3 L387.2 357.7 L381.4 359.1 L374.1 354.8 L371.2 350.4 Z" fill="#e3e3e3" stroke="#646464" stroke-width="3" stroke-linejoin="round"/>
<path d="M490.0 283.0 L500.0 281.0 L510.0 284.0 L520.0 282.0 L527.0 281.0 L524.0 291.0 L515.0 296.0 L505.0 299.0 L494.0 296.0 L496.0 290.0 Z" fill="#e3e3e3" stroke="#646464" stroke-width="3" stroke-linejoin="round"/>
<polygon points="655,358 654,400 651,400 651,470 648,480 644,490 644,547 660,547 660,358" fill="#fff"/>
<line x1="198.5" y1="95" x2="198.5" y2="546" stroke="#a4a4a4" stroke-width="1" stroke-dasharray="2,4.6"/>
<line x1="261.5" y1="95" x2="261.5" y2="546" stroke="#a4a4a4" stroke-width="1" stroke-dasharray="2,4.6"/>
<line x1="323.5" y1="95" x2="323.5" y2="546" stroke="#a4a4a4" stroke-width="1" stroke-dasharray="2,4.6"/>
<line x1="386.5" y1="95" x2="386.5" y2="546" stroke="#a4a4a4" stroke-width="1" stroke-dasharray="2,4.6"/>
<line x1="449.5" y1="95" x2="449.5" y2="546" stroke="#a4a4a4" stroke-width="1" stroke-dasharray="2,4.6"/>
<line x1="511.5" y1="95" x2="511.5" y2="546" stroke="#a4a4a4" stroke-width="1" stroke-dasharray="2,4.6"/>
<line x1="574.5" y1="95" x2="574.5" y2="546" stroke="#a4a4a4" stroke-width="1" stroke-dasharray="2,4.6"/>
<line x1="637.5" y1="95" x2="637.5" y2="546" stroke="#a4a4a4" stroke-width="1" stroke-dasharray="2,4.6"/>
<line x1="135" y1="133.5" x2="657" y2="133.5" stroke="#a4a4a4" stroke-width="1" stroke-dasharray="2,4.6"/>
<line x1="135" y1="170.5" x2="657" y2="170.5" stroke="#a4a4a4" stroke-width="1" stroke-dasharray="2,4.6"/>
<line x1="135" y1="208.5" x2="657" y2="208.5" stroke="#a4a4a4" stroke-width="1" stroke-dasharray="2,4.6"/>
<line x1="135" y1="245.5" x2="657" y2="245.5" stroke="#a4a4a4" stroke-width="1" stroke-dasharray="2,4.6"/>
<line x1="135" y1="283.5" x2="657" y2="283.5" stroke="#a4a4a4" stroke-width="1" stroke-dasharray="2,4.6"/>
<line x1="135" y1="321.5" x2="657" y2="321.5" stroke="#a4a4a4" stroke-width="1" stroke-dasharray="2,4.6"/>
<line x1="135" y1="358.5" x2="657" y2="358.5" stroke="#a4a4a4" stroke-width="1" stroke-dasharray="2,4.6"/>
<line x1="135" y1="396.5" x2="657" y2="396.5" stroke="#a4a4a4" stroke-width="1" stroke-dasharray="2,4.6"/>
<line x1="135" y1="433.5" x2="657" y2="433.5" stroke="#a4a4a4" stroke-width="1" stroke-dasharray="2,4.6"/>
<line x1="135" y1="471.5" x2="657" y2="471.5" stroke="#a4a4a4" stroke-width="1" stroke-dasharray="2,4.6"/>
<line x1="135" y1="509.5" x2="657" y2="509.5" stroke="#a4a4a4" stroke-width="1" stroke-dasharray="2,4.6"/>
<path d="M136.0 95.0 L141.0 96.0 L147.0 100.5 L154.0 96.0 L160.0 95.0" fill="none" stroke="#000" stroke-width="2.1" stroke-linejoin="round"/>
<path d="M314.0 126.8 L303.8 123.1 L294.1 124.3 L279.6 119.5 L269.9 118.3 L260.2 113.4 L252.9 112.9 L245.6 118.3 L235.9 114.6 L228.6 117.0 L221.3 128.0 L216.5 132.8 L209.2 128.0 L201.9 120.7 L194.6 115.8 L187.4 115.8 L183.7 119.5 L182.5 130.4 L181.3 145.0 L184.2 150.0 L189.0 153.2 L195.5 156.5 L200.3 164.6 L205.2 171.0 L208.4 179.1 L209.2 185.6 L206.8 192.1 L213.3 193.7 L218.1 198.5 L224.6 203.4 L232.7 206.6 L240.8 220.0 L249.8 229.0 L261.0 238.0 L270.0 244.8 L276.8 249.3 L277.9 260.5 L283.5 267.3 L292.5 274.0 L301.5 280.8 L302.6 285.3" fill="none" stroke="#000" stroke-width="2.1" stroke-linejoin="round"/>
<path d="M300.0 123.8 L310.4 125.1 L320.7 129.0 L331.1 126.4 L338.8 123.8 L346.6 126.4 L357.0 125.1 L367.3 129.0 L372.5 132.8 L373.8 139.3 L377.7 141.9 L385.4 143.2 L393.2 140.6 L402.3 139.3 L407.5 141.9 L408.8 148.4 L406.2 156.1 L402.3 163.9 L397.1 171.7 L393.2 178.2 L398.4 183.3 L406.2 188.5 L413.9 197.6 L419.1 205.3 L419.1 213.1 L411.3 213.1 L403.6 210.5 L401.0 217.0 L408.8 223.5 L413.9 231.2 L413.9 239.0 L403.6 242.9 L390.6 242.9 L382.9 244.2 L387.0 250.0 L392.9 255.9 L390.2 263.9 L379.6 258.6 L369.0 261.2 L363.7 269.2 L361.0 279.8 L354.0 282.6 L352.3 288.8 L350.5 295.8 L357.5 302.8 L358.4 308.9 L352.3 312.4 L350.5 316.8 L353.1 322.0 L355.8 324.6 L366.3 324.6 L367.1 328.1 L371.5 334.3" fill="none" stroke="#000" stroke-width="2.1" stroke-linejoin="round"/>
<path d="M384.2 95.0 L382.9 103.1 L388.0 108.2 L398.4 110.8 L406.2 114.7 L411.3 118.6 L403.6 118.6 L397.1 117.3 L394.5 123.8 L391.9 131.5 L389.3 138.0 L386.7 142.0" fill="none" stroke="#000" stroke-width="2.1" stroke-linejoin="round"/>
<path d="M134.0 150.0 L137.0 160.0 L140.0 172.0 L142.1 187.2 L145.3 192.1 L153.4 200.2 L161.5 206.6 L168.0 214.7 L176.1 221.2 L184.2 226.0 L192.3 230.9 L194.7 234.1 L193.1 239.0 L197.1 243.9 L202.0 247.1 L207.0 245.9 L220.5 241.4 L231.8 243.6 L243.0 245.9 L252.0 251.5 L258.8 258.3 L265.5 267.3 L279.0 276.3 L290.3 284.1 L302.6 285.3 L310.5 289.8 L324.0 298.8 L337.5 307.8 L351.0 316.8 L362.8 329.0 L371.5 334.3 L377.6 336.0 L383.8 341.3 L389.0 346.5 L392.5 351.8 L396.0 357.0 L397.8 362.3 L403.0 365.8 L413.5 369.3 L420.5 372.8 L422.1 375.3 L422.1 386.7 L416.8 394.6 L414.1 405.2 L416.8 415.9 L414.1 431.8 L416.8 439.7 L411.5 450.4 L406.2 459.7 L411.5 466.3 L414.1 474.3 L414.1 482.2 L408.8 479.6 L404.9 475.6 L406.2 482.2 L414.1 490.2 L420.0 494.6 L426.8 496.9 L433.5 501.4 L440.2 505.9 L443.6 510.4 L446.4 516.0 L447.0 522.7 L447.0 529.5 L451.5 531.7 L457.1 532.9 L461.6 534.6 L465.0 532.9 L467.2 528.4 L471.7 522.7 L475.1 521.6 L472.9 517.1 L469.5 513.7 L468.4 509.2 L471.7 504.7 L476.2 502.5 L483.0 501.9 L488.6 501.4 L490.9 496.9 L493.1 489.0 L496.5 483.4 L497.6 480.0 L499.2 479.5 L509.8 471.6 L513.8 461.0 L511.1 447.7 L509.8 439.7 L496.5 439.7 L491.2 431.8 L485.9 421.2 L480.6 407.9 L481.9 399.9 L480.6 388.6 L483.3 372.7 L485.9 359.4 L484.6 351.5 L480.0 341.3 L474.8 337.8 L467.8 334.3 L462.5 329.0 L460.8 322.0 L452.0 313.3" fill="none" stroke="#000" stroke-width="2.1" stroke-linejoin="round"/>
<path d="M458.2 534.0 L461.6 538.5 L462.2 547.0" fill="none" stroke="#000" stroke-width="2.1" stroke-linejoin="round"/>
<path d="M425.6 523.9 L431.2 522.7 L439.1 521.6 L442.5 522.7 L443.6 526.1 L439.1 529.5 L438.0 532.9 L441.4 536.2 L443.6 540.7 L444.2 547.0" fill="none" stroke="#000" stroke-width="2.1" stroke-linejoin="round"/>
<path d="M425.6 523.9 L425.6 529.5 L429.0 534.0 L434.6 537.4 L438.0 541.9 L439.1 547.0" fill="none" stroke="#000" stroke-width="2.1" stroke-linejoin="round"/>
<path d="M263.3 280.8 L279.0 283.0 L297.0 289.8 L315.0 296.5 L333.0 305.5 L346.5 314.5 L355.5 321.3 L362.8 329.0" fill="none" stroke="#000" stroke-width="2.1" stroke-linejoin="round"/>
<path d="M400.0 243.0 L406.2 250.6 L416.8 261.2 L427.4 269.2 L438.0 274.5 L448.5 280.0 L455.5 285.3 L464.3 288.8 L471.3 294.0 L469.5 299.3 L462.5 301.0 L453.8 302.8 L452.0 311.5 L448.5 315.0 L438.0 316.8 L432.8 315.0 L431.0 309.8 L429.3 308.0 L424.0 315.0 L417.0 323.8 L411.8 332.5 L404.8 341.3 L403.9 344.8 L406.5 348.3 L410.0 350.0 L411.8 353.5 L409.1 362.3 L408.3 371.0 L413.0 376.0" fill="none" stroke="#000" stroke-width="2.1" stroke-linejoin="round"/>
<path d="M485.9 359.4 L493.9 356.8 L496.5 351.5 L507.2 346.2 L517.8 343.5 L523.1 346.2 L533.7 340.8 L544.3 339.5 L560.2 332.9 L576.2 332.9 L589.4 331.6 L597.4 332.9" fill="none" stroke="#000" stroke-width="2.1" stroke-linejoin="round"/>
<path d="M497.9 95.0 L509.8 105.9 L523.1 109.9 L533.7 113.9 L541.7 121.8 L539.0 129.8 L533.7 133.8 L541.7 136.4 L547.0 139.1 L544.3 143.1 L536.3 145.7 L532.4 144.4 L533.7 140.4 L541.7 137.8" fill="none" stroke="#000" stroke-width="2.1" stroke-linejoin="round"/>
<path d="M544.3 143.1 L547.0 151.0 L554.9 156.3 L570.8 159.5 L581.5 170.9 L594.7 156.3 L605.3 158.5 L616.0 161.7 L620.0 165.6 L604.0 174.9 L608.0 182.9 L616.0 188.2 L617.3 190.8 L613.3 194.8 L602.7 202.8 L597.4 209.4 L597.4 222.7 L601.4 238.6 L610.7 248.0 L621.3 253.3 L629.2 261.2 L634.5 269.2 L631.9 277.2 L623.9 285.1 L616.0 290.4 L605.3 293.1 L600.0 301.0 L600.0 309.0 L602.7 314.3 L608.0 319.6 L608.0 324.9 L602.7 330.2 L597.4 332.9 L602.7 343.5 L613.3 351.5 L623.9 354.1 L629.2 362.1 L631.9 370.0 L634.5 378.0 L637.2 380.7 L634.5 388.6 L633.2 394.6 L634.5 406.6" fill="none" stroke="#000" stroke-width="2.1" stroke-linejoin="round"/>
<path d="M617.3 190.8 L629.2 196.2 L638.5 202.8 L635.9 208.1 L626.6 210.8 L626.6 217.4 L639.9 220.0 L660.0 218.7" fill="none" stroke="#000" stroke-width="2.1" stroke-linejoin="round"/>
<path d="M511.1 443.7 L523.1 443.7 L536.3 441.1 L547.0 442.4 L557.6 439.7 L565.5 433.1 L570.8 423.8 L581.5 421.2 L592.1 421.2 L602.7 423.8 L616.0 422.5 L621.3 417.2 L622.6 407.9 L634.5 406.6 L645.2 407.4 L653.1 403.1 L660.0 402.6" fill="none" stroke="#000" stroke-width="2.1" stroke-linejoin="round"/>
<path d="M610.7 474.2 L618.6 468.9 L629.2 463.6 L631.9 459.6 L634.5 463.6 L631.9 468.9 L626.6 472.9 L629.2 476.9 L639.9 482.2 L647.8 487.5 L655.8 491.5 L660.0 494.0" fill="none" stroke="#000" stroke-width="2.1" stroke-linejoin="round"/>
<path d="M610.7 474.2 L610.7 484.9 L609.3 495.5 L608.0 503.4 L613.3 511.4 L621.3 519.4 L626.6 530.0 L631.9 540.6 L637.2 547.0" fill="none" stroke="#000" stroke-width="2.1" stroke-linejoin="round"/>
<path d="M134.0 360.5 L168.8 362.4 L192.2 360.5 L207.7 364.4 L210.8 372.2 L205.8 378.0 L194.1 383.8 L190.2 391.6 L194.1 399.4 L203.0 403.6 L213.6 407.9 L226.9 414.5 L240.2 419.8 L253.5 423.8 L266.7 429.1 L277.3 434.4 L288.0 443.7 L295.9 449.0 L306.5 451.7 L313.3 453.0 L323.9 459.7 L326.5 466.3 L339.8 475.6 L350.4 487.5 L354.4 498.1 L350.4 506.1 L347.8 514.1 L346.5 523.4 L337.2 520.7 L326.5 514.1 L323.9 506.1 L321.2 495.5 L310.6 486.2 L300.0 484.3 L293.3 484.9 L282.7 479.6 L274.7 475.6 L278.7 471.6 L272.0 469.5 L264.1 468.9 L256.1 472.9 L248.1 484.9 L240.2 495.5 L234.9 506.1 L229.6 516.7 L226.9 524.7 L232.2 535.3 L246.0 537.4" fill="none" stroke="#000" stroke-width="2.1" stroke-linejoin="round"/>
<path d="M134.0 492.8 L144.6 496.8 L160.5 508.8 L168.5 503.5 L176.5 504.8 L181.8 514.1 L184.4 527.3 L187.1 538.0 L192.4 547.0" fill="none" stroke="#000" stroke-width="2.1" stroke-linejoin="round"/>
<path d="M136.4 165.4 L143.7 172.7 L151.8 179.9 L159.9 184.8 L168.8 187.5 L166.4 188.5 L155.0 186.4 L148.6 185.6 L142.9 187.2 L142.1 184.8 L149.4 184.0 L143.7 179.1 L137.2 172.7 Z" fill="none" stroke="#000" stroke-width="2" stroke-linejoin="round"/>
<path d="M137.2 206.6 L143.7 211.5 L149.4 214.7 L146.9 216.3 L140.5 213.1 L137.2 209.9 Z" fill="none" stroke="#000" stroke-width="2" stroke-linejoin="round"/>
<path d="M222.8 253.8 L236.3 252.6 L252.0 256.0 L253.1 261.6 L240.8 262.8 L225.0 260.5 Z" fill="none" stroke="#000" stroke-width="2" stroke-linejoin="round"/>
<path d="M221.6 267.3 L234.0 266.1 L254.3 270.6 L267.8 272.9 L263.3 274.0 L243.0 272.9 L225.0 269.5 Z" fill="none" stroke="#000" stroke-width="2" stroke-linejoin="round"/>
<path d="M200.3 278.5 L211.5 277.4 L213.8 279.6 L204.8 281.9 L200.3 280.3 Z" fill="none" stroke="#000" stroke-width="2" stroke-linejoin="round"/>
<path d="M237.4 284.1 L252.0 283.0 L272.3 286.4 L267.8 289.8 L247.5 288.6 L238.5 286.4 Z" fill="none" stroke="#000" stroke-width="2" stroke-linejoin="round"/>
<path d="M281.3 297.6 L294.8 299.9 L307.1 305.5 L297.0 304.4 L283.5 301.0 Z" fill="none" stroke="#000" stroke-width="2" stroke-linejoin="round"/>
<path d="M387.6 95.3 L419.4 100.6 L446.0 104.6 L469.9 108.6 L496.5 111.2 L523.1 109.9 L549.6 105.9 L562.9 101.9 L589.4 101.9 L608.0 103.3 L629.2 102.7 L660.0 103.3" fill="none" stroke="#1428ff" stroke-width="1.2" stroke-linejoin="round"/>
<path d="M134.0 136.5 L143.7 141.3 L151.0 138.9 L163.1 138.9 L172.8 141.3 L182.5 141.3 L192.2 137.7 L204.4 135.2 L216.5 134.0 L226.2 135.2 L250.0 135.2 L260.2 136.5 L269.9 141.3 L284.4 143.7 L300.0 147.0 L308.0 151.0 L326.5 155.0 L345.1 152.4 L366.3 155.0 L387.6 157.7 L406.2 160.3 L428.0 161.1 L439.3 161.1 L459.2 160.3 L470.0 159.0 L485.9 160.3 L501.8 163.0 L523.1 168.3 L544.3 167.0 L570.8 165.6 L586.8 165.6 L602.7 167.0 L622.6 167.0 L639.9 164.3 L660.0 165.6" fill="none" stroke="#1428ff" stroke-width="1.2" stroke-linejoin="round"/>
<path d="M134.0 263.1 L143.7 260.7 L158.3 257.0 L180.0 253.8 L198.0 251.5 L216.0 249.3 L231.8 242.5 L243.0 243.6 L256.5 241.4 L266.6 239.1 L285.8 235.8 L297.0 236.9 L301.5 233.5 L315.0 230.1 L317.3 225.6 L319.5 224.5 L339.8 225.3 L353.1 222.7 L369.0 220.0 L387.6 224.0 L412.8 225.3 L432.7 226.7 L448.6 230.7 L469.9 233.3 L491.2 234.6 L509.8 233.3 L536.3 234.6 L562.9 232.0 L586.8 233.3 L598.7 233.3 L618.6 228.0 L634.5 230.7 L660.0 228.0" fill="none" stroke="#1428ff" stroke-width="1.2" stroke-linejoin="round"/>
<path d="M134.0 367.4 L148.6 365.0 L163.1 362.6 L182.5 357.7 L197.1 352.9 L211.6 349.2 L231.0 346.8 L255.3 348.0 L274.7 345.6 L289.3 345.6 L300.0 346.2 L326.5 344.8 L353.1 344.8 L371.7 342.2 L377.0 336.9 L384.9 332.9 L400.8 330.2 L411.5 327.6 L422.1 317.0 L428.2 309.0 L447.8 309.5 L459.2 307.7 L469.9 318.3 L485.9 317.0 L496.5 313.0 L509.8 314.3 L523.1 317.0 L533.7 310.3 L544.3 307.7 L560.2 309.0 L576.2 309.0 L592.1 303.7 L616.0 306.3 L629.2 311.7 L645.2 313.0 L660.0 311.7" fill="none" stroke="#1428ff" stroke-width="1.2" stroke-linejoin="round"/>
<path d="M134.0 446.4 L149.9 447.7 L173.8 446.4 L195.1 451.7 L208.3 460.5 L221.6 455.7 L240.2 453.0 L253.5 445.1 L266.7 439.7 L282.7 438.4 L300.0 436.6 L326.5 435.8 L353.1 433.9 L366.4 431.8 L387.6 426.5 L411.5 422.5 L432.7 415.9 L444.7 414.5 L464.6 410.5 L485.9 410.5 L512.5 407.9 L523.1 409.2 L533.7 413.7 L541.7 412.7 L554.9 407.4 L565.5 409.2 L576.2 410.5 L586.8 410.0 L610.7 406.6 L623.9 403.1 L629.2 397.3 L634.5 402.6 L642.5 406.6 L650.5 408.4" fill="none" stroke="#1428ff" stroke-width="1.2" stroke-linejoin="round"/>
<path d="M189.7 540.6 L200.4 542.0 L218.9 538.0 L245.5 539.3 L266.7 538.0 L293.3 536.6 L314.0 534.8 L326.5 531.3 L353.1 527.3 L384.9 523.4 L420.0 518.2 L431.2 514.9 L440.2 511.5 L442.5 502.5 L447.0 501.4 L453.7 503.6 L462.7 506.4 L467.2 504.7 L475.1 500.8 L483.0 501.4 L487.5 504.2 L493.1 501.4 L503.2 495.2 L509.8 494.1 L520.4 495.5 L536.3 506.1 L549.6 495.5 L562.9 495.5 L576.2 492.8 L586.8 490.2 L616.0 494.1 L645.2 494.9" fill="none" stroke="#1428ff" stroke-width="1.2" stroke-linejoin="round"/>
<path d="M143.7 96.4 L148.6 101.3 L155.8 108.6 L155.8 114.6 L170.4 114.6 L182.5 117.0 L192.2 120.7 L197.1 124.3 L204.4 125.5 L214.1 118.3 L218.9 115.8 L226.2 119.5 L244.4 118.3 L252.9 114.6 L260.2 111.0 L269.9 106.1 L279.6 101.3 L289.3 95.0" fill="none" stroke="#ff2a2a" stroke-width="1.0" stroke-dasharray="3,2"/>
<path d="M134.0 226.5 L143.7 230.9 L153.4 235.8 L163.1 239.8 L171.2 241.4 L176.9 238.2 L191.4 235.8 L193.9 226.0 L198.7 216.3 L205.2 209.9 L211.7 203.4 L221.3 195.9 L231.0 193.5 L240.7 193.5 L250.4 198.3 L265.0 198.8 L283.8 202.5 L295.0 206.3 L302.5 213.8 L312.0 208.0 L322.0 206.0 L330.0 210.0 L342.8 209.0 L351.3 206.3 L362.5 200.6 L377.5 193.1 L390.6 187.5 L403.5 181.6 L416.8 182.9 L424.7 188.2 L430.0 185.5 L446.0 180.2 L464.5 174.9 L470.0 174.9 L483.3 167.0 L501.8 160.3 L515.1 155.0 L528.4 156.3 L544.3 167.0 L557.6 160.3 L570.8 159.5 L581.5 153.7 L594.7 152.4 L613.3 152.4 L629.2 145.7 L642.5 139.1 L660.0 133.8" fill="none" stroke="#ff2a2a" stroke-width="1.0" stroke-dasharray="3,2"/>
<path d="M302.5 213.8 L306.0 222.0 L318.0 222.0 L322.0 214.0" fill="none" stroke="#ff2a2a" stroke-width="1.0" stroke-dasharray="3,2"/>
<path d="M197.1 352.9 L204.4 345.6 L221.3 342.0 L235.9 339.5 L250.4 340.7 L260.2 343.2 L274.7 340.7 L284.4 338.3 L299.0 345.6 L314.0 352.9 L326.5 356.8 L342.5 378.0 L350.4 391.3 L353.1 397.3 L363.7 399.2 L375.7 402.6" fill="none" stroke="#ff2a2a" stroke-width="1.0" stroke-dasharray="3,2"/>
<path d="M384.9 402.6 L406.2 394.6 L419.5 389.3 L430.0 388.0 L435.4 394.6 L443.3 392.0 L451.3 389.3 L459.3 384.0" fill="none" stroke="#ff2a2a" stroke-width="1.0" stroke-dasharray="3,2"/>
<path d="M438.0 397.3 L438.0 407.9 L444.7 410.5" fill="none" stroke="#ff2a2a" stroke-width="1.0" stroke-dasharray="3,2"/>
<path d="M197.1 352.9 L198.3 369.9 L206.8 379.6 L208.3 384.0 L208.3 402.6 L221.6 413.2 L226.9 418.5 L225.6 431.8 L218.9 441.1 L211.0 449.0 L209.7 461.0 L211.0 471.6 L209.7 484.9 L208.3 492.8" fill="none" stroke="#ff2a2a" stroke-width="1.0" stroke-dasharray="3,2"/>
<path d="M200.4 495.5 L187.1 487.5 L185.8 476.9 L179.1 468.9 L168.5 468.9 L163.2 463.6 L165.9 458.3 L159.2 451.7 L153.9 455.7 L157.9 462.3 L147.3 474.3 L134.0 480.9" fill="none" stroke="#ff2a2a" stroke-width="1.0" stroke-dasharray="3,2"/>
<path d="M470.0 370.0 L480.6 364.7 L486.0 362.0" fill="none" stroke="#ff2a2a" stroke-width="1.0" stroke-dasharray="3,2"/>
<path d="M496.5 359.4 L504.5 364.7 L509.8 370.0 L523.1 367.4 L539.0 367.4 L547.0 370.0 L552.3 378.0 L562.9 379.3 L581.5 376.7 L592.1 372.7 L597.4 364.7 L597.4 351.5 L600.0 343.5 L610.7 338.2 L620.0 338.2" fill="none" stroke="#ff2a2a" stroke-width="1.0" stroke-dasharray="3,2"/>
<path d="M629.2 338.2 L642.5 332.9 L653.1 327.6 L655.8 319.6 L653.1 311.7 L658.0 309.0" fill="none" stroke="#ff2a2a" stroke-width="1.0" stroke-dasharray="3,2"/>
<path d="M459.3 384.0 L462.0 390.0 L470.0 392.0 L464.0 398.0 L459.0 393.0" fill="none" stroke="#ff2a2a" stroke-width="1.0" stroke-dasharray="3,2"/>
<path d="M646.0 440.0 L644.0 448.0" fill="none" stroke="#ff2a2a" stroke-width="1.0" stroke-dasharray="3,2"/>
<path d="M600.0 510.0 L603.0 506.0 L610.0 508.0 L614.0 514.0 L610.0 520.0 L603.0 519.0 L600.0 514.0" fill="none" stroke="#ff2a2a" stroke-width="1.0" stroke-dasharray="3,2"/>
<path d="M612.0 526.0 L620.0 527.0 L627.0 532.0 L620.0 536.0 L612.0 532.0" fill="none" stroke="#ff2a2a" stroke-width="1.0" stroke-dasharray="3,2"/>
<g><rect x="226.5" y="115.5" width="17.0" height="13.0" fill="#fff"/>
<text x="235.0" y="126.5" font-size="12.0" fill="#ff2a2a" text-anchor="middle" font-weight="bold" textLength="12.0" lengthAdjust="spacingAndGlyphs" >&#8211;4</text></g>
<g><rect x="176.5" y="231.0" width="15.5" height="12.0" fill="#fff"/>
<text x="184.2" y="241.5" font-size="12.0" fill="#ff2a2a" text-anchor="middle" font-weight="bold" textLength="12.0" lengthAdjust="spacingAndGlyphs" >&#8211;2</text></g>
<g><rect x="306.5" y="192.2" width="15.5" height="11.8" fill="#fff"/>
<text x="314.2" y="202.6" font-size="12.0" fill="#ff2a2a" text-anchor="middle" font-weight="bold" textLength="12.0" lengthAdjust="spacingAndGlyphs" >&#8211;2</text></g>
<g transform="rotate(-15 334.5 205.0)"><rect x="326.5" y="199.0" width="16.0" height="12.0" fill="#fff"/>
<text x="334.5" y="209.5" font-size="12.0" fill="#ff2a2a" text-anchor="middle" font-weight="bold" textLength="12.0" lengthAdjust="spacingAndGlyphs" >&#8211;2</text></g>
<g><rect x="303.5" y="213.0" width="17.0" height="12.0" fill="#fff"/>
<text x="312.0" y="223.5" font-size="12.0" fill="#ff2a2a" text-anchor="middle" font-weight="bold" textLength="12.0" lengthAdjust="spacingAndGlyphs" >&#8211;2</text></g>
<g><rect x="353.0" y="182.0" width="16.0" height="12.0" fill="#fff"/>
<text x="361.0" y="192.5" font-size="12.0" fill="#ff2a2a" text-anchor="middle" font-weight="bold" textLength="12.0" lengthAdjust="spacingAndGlyphs" >&#8211;2</text></g>
<g><rect x="386.5" y="173.5" width="17.0" height="12.0" fill="#fff"/>
<text x="395.0" y="184.0" font-size="12.0" fill="#ff2a2a" text-anchor="middle" font-weight="bold" textLength="12.0" lengthAdjust="spacingAndGlyphs" >&#8211;2</text></g>
<g><rect x="430.0" y="177.6" width="16.0" height="11.9" fill="#fff"/>
<text x="438.0" y="188.1" font-size="12.0" fill="#ff2a2a" text-anchor="middle" font-weight="bold" textLength="12.0" lengthAdjust="spacingAndGlyphs" >&#8211;2</text></g>
<g><rect x="597.4" y="147.0" width="15.9" height="10.7" fill="#fff"/>
<text x="605.3" y="156.8" font-size="12.0" fill="#ff2a2a" text-anchor="middle" font-weight="bold" textLength="12.0" lengthAdjust="spacingAndGlyphs" >&#8211;2</text></g>
<g><rect x="375.7" y="398.6" width="7.9" height="10.6" fill="#fff"/>
<text x="379.6" y="408.4" font-size="12.0" fill="#ff2a2a" text-anchor="middle" font-weight="bold" textLength="5.9" lengthAdjust="spacingAndGlyphs" >0</text></g>
<g><rect x="442.0" y="409.0" width="6.7" height="11.0" fill="#fff"/>
<text x="445.4" y="419.0" font-size="12.0" fill="#ff2a2a" text-anchor="middle" font-weight="bold" textLength="4.7" lengthAdjust="spacingAndGlyphs" >0</text></g>
<g><rect x="201.7" y="491.5" width="7.2" height="9.3" fill="#fff"/>
<text x="205.3" y="500.6" font-size="12.0" fill="#ff2a2a" text-anchor="middle" font-weight="bold" textLength="5.2" lengthAdjust="spacingAndGlyphs" >0</text></g>
<g><rect x="484.6" y="360.8" width="8.0" height="9.2" fill="#fff"/>
<text x="488.6" y="369.9" font-size="12.0" fill="#ff2a2a" text-anchor="middle" font-weight="bold" textLength="6.0" lengthAdjust="spacingAndGlyphs" >0</text></g>
<g><rect x="620.0" y="337.0" width="8.0" height="9.0" fill="#fff"/>
<text x="624.0" y="346.0" font-size="12.0" fill="#ff2a2a" text-anchor="middle" font-weight="bold" textLength="6.0" lengthAdjust="spacingAndGlyphs" >0</text></g>
<g><rect x="240.7" y="129.2" width="19.5" height="9.7" fill="#fff"/>
<text x="250.4" y="138.6" font-size="12.0" fill="#1428ff" text-anchor="middle" font-weight="bold" textLength="17.5" lengthAdjust="spacingAndGlyphs" >310</text></g>
<g><rect x="266.6" y="232.4" width="20.3" height="12.4" fill="#fff"/>
<text x="276.8" y="243.1" font-size="12.0" fill="#1428ff" text-anchor="middle" font-weight="bold" textLength="18.0" lengthAdjust="spacingAndGlyphs" >311</text></g>
<g><rect x="418.1" y="155.0" width="21.2" height="12.0" fill="#fff"/>
<text x="428.7" y="165.5" font-size="12.0" fill="#1428ff" text-anchor="middle" font-weight="bold" textLength="18.0" lengthAdjust="spacingAndGlyphs" >310</text></g>
<g><rect x="412.8" y="217.4" width="19.9" height="11.9" fill="#fff"/>
<text x="422.8" y="227.9" font-size="12.0" fill="#1428ff" text-anchor="middle" font-weight="bold" textLength="17.9" lengthAdjust="spacingAndGlyphs" >311</text></g>
<g><rect x="608.0" y="98.0" width="21.2" height="10.6" fill="#fff"/>
<text x="618.6" y="107.8" font-size="12.0" fill="#1428ff" text-anchor="middle" font-weight="bold" textLength="18.0" lengthAdjust="spacingAndGlyphs" >309</text></g>
<g><rect x="601.9" y="165.6" width="20.7" height="10.7" fill="#fff"/>
<text x="612.2" y="175.4" font-size="12.0" fill="#1428ff" text-anchor="middle" font-weight="bold" textLength="18.0" lengthAdjust="spacingAndGlyphs" >310</text></g>
<g><rect x="599.2" y="222.7" width="19.4" height="10.6" fill="#fff"/>
<text x="608.9" y="232.5" font-size="12.0" fill="#1428ff" text-anchor="middle" font-weight="bold" textLength="17.4" lengthAdjust="spacingAndGlyphs" >311</text></g>
<g><rect x="427.5" y="301.0" width="20.1" height="12.3" fill="#fff"/>
<text x="437.6" y="311.6" font-size="12.0" fill="#1428ff" text-anchor="middle" font-weight="bold" textLength="18.0" lengthAdjust="spacingAndGlyphs" >312</text></g>
<g><rect x="594.7" y="294.4" width="21.3" height="11.9" fill="#fff"/>
<text x="605.4" y="304.9" font-size="12.0" fill="#1428ff" text-anchor="middle" font-weight="bold" textLength="18.0" lengthAdjust="spacingAndGlyphs" >312</text></g>
<g><rect x="255.3" y="343.2" width="19.4" height="10.9" fill="#fff"/>
<text x="265.0" y="353.1" font-size="12.0" fill="#1428ff" text-anchor="middle" font-weight="bold" textLength="17.4" lengthAdjust="spacingAndGlyphs" >312</text></g>
<g><rect x="173.8" y="441.0" width="20.7" height="10.7" fill="#fff"/>
<text x="184.2" y="450.9" font-size="12.0" fill="#1428ff" text-anchor="middle" font-weight="bold" textLength="18.0" lengthAdjust="spacingAndGlyphs" >313</text></g>
<g><rect x="368.5" y="423.3" width="19.1" height="11.1" fill="#fff"/>
<text x="378.1" y="433.4" font-size="12.0" fill="#1428ff" text-anchor="middle" font-weight="bold" textLength="17.1" lengthAdjust="spacingAndGlyphs" >313</text></g>
<g><rect x="589.4" y="406.6" width="19.9" height="10.6" fill="#fff"/>
<text x="599.3" y="416.4" font-size="12.0" fill="#1428ff" text-anchor="middle" font-weight="bold" textLength="17.9" lengthAdjust="spacingAndGlyphs" >313</text></g>
<g><rect x="246.8" y="535.3" width="18.6" height="10.7" fill="#fff"/>
<text x="256.1" y="545.1" font-size="12.0" fill="#1428ff" text-anchor="middle" font-weight="bold" textLength="16.6" lengthAdjust="spacingAndGlyphs" >314</text></g>
<g><rect x="595.3" y="491.5" width="20.1" height="10.6" fill="#fff"/>
<text x="605.3" y="501.3" font-size="12.0" fill="#1428ff" text-anchor="middle" font-weight="bold" textLength="18.0" lengthAdjust="spacingAndGlyphs" >314</text></g>
<g><rect x="642.0" y="446.0" width="8.0" height="10.0" fill="#fff"/>
<text x="646.0" y="455.5" font-size="12.0" fill="#ff2a2a" text-anchor="middle" font-weight="bold" textLength="6.0" lengthAdjust="spacingAndGlyphs" >2</text></g>
<g><rect x="601.0" y="515.0" width="8.0" height="10.0" fill="#fff"/>
<text x="605.0" y="524.5" font-size="12.0" fill="#ff2a2a" text-anchor="middle" font-weight="bold" textLength="6.0" lengthAdjust="spacingAndGlyphs" >2</text></g>
<g><rect x="612.0" y="528.0" width="8.0" height="10.0" fill="#fff"/>
<text x="616.0" y="537.5" font-size="12.0" fill="#ff2a2a" text-anchor="middle" font-weight="bold" textLength="6.0" lengthAdjust="spacingAndGlyphs" >2</text></g>
</g>
<rect x="135" y="95" width="522" height="451" fill="none" stroke="#000" stroke-width="2"/>
<line x1="135" y1="546" x2="135" y2="550" stroke="#000" stroke-width="1.5"/>
<text x="126.2" y="560.0" font-size="10.5" fill="#000" text-anchor="start" font-weight="bold" textLength="17.5" lengthAdjust="spacingAndGlyphs" >15E</text>
<line x1="198" y1="546" x2="198" y2="550" stroke="#000" stroke-width="1.5"/>
<text x="189.2" y="560.0" font-size="10.5" fill="#000" text-anchor="start" font-weight="bold" textLength="17.5" lengthAdjust="spacingAndGlyphs" >16E</text>
<line x1="261" y1="546" x2="261" y2="550" stroke="#000" stroke-width="1.5"/>
<text x="252.2" y="560.0" font-size="10.5" fill="#000" text-anchor="start" font-weight="bold" textLength="17.5" lengthAdjust="spacingAndGlyphs" >17E</text>
<line x1="323" y1="546" x2="323" y2="550" stroke="#000" stroke-width="1.5"/>
<text x="314.2" y="560.0" font-size="10.5" fill="#000" text-anchor="start" font-weight="bold" textLength="17.5" lengthAdjust="spacingAndGlyphs" >18E</text>
<line x1="386" y1="546" x2="386" y2="550" stroke="#000" stroke-width="1.5"/>
<text x="377.2" y="560.0" font-size="10.5" fill="#000" text-anchor="start" font-weight="bold" textLength="17.5" lengthAdjust="spacingAndGlyphs" >19E</text>
<line x1="449" y1="546" x2="449" y2="550" stroke="#000" stroke-width="1.5"/>
<text x="440.2" y="560.0" font-size="10.5" fill="#000" text-anchor="start" font-weight="bold" textLength="17.5" lengthAdjust="spacingAndGlyphs" >20E</text>
<line x1="511" y1="546" x2="511" y2="550" stroke="#000" stroke-width="1.5"/>
<text x="502.2" y="560.0" font-size="10.5" fill="#000" text-anchor="start" font-weight="bold" textLength="17.5" lengthAdjust="spacingAndGlyphs" >21E</text>
<line x1="574" y1="546" x2="574" y2="550" stroke="#000" stroke-width="1.5"/>
<text x="565.2" y="560.0" font-size="10.5" fill="#000" text-anchor="start" font-weight="bold" textLength="17.5" lengthAdjust="spacingAndGlyphs" >22E</text>
<line x1="637" y1="546" x2="637" y2="550" stroke="#000" stroke-width="1.5"/>
<text x="628.2" y="560.0" font-size="10.5" fill="#000" text-anchor="start" font-weight="bold" textLength="17.5" lengthAdjust="spacingAndGlyphs" >23E</text>
<line x1="131" y1="95" x2="135" y2="95" stroke="#000" stroke-width="1.5"/>
<text x="100.0" y="99.7" font-size="10.5" fill="#000" text-anchor="start" font-weight="bold" textLength="28.7" lengthAdjust="spacingAndGlyphs" >45.5N</text>
<line x1="131" y1="133" x2="135" y2="133" stroke="#000" stroke-width="1.5"/>
<text x="109.8" y="137.7" font-size="10.5" fill="#000" text-anchor="start" font-weight="bold" textLength="18.9" lengthAdjust="spacingAndGlyphs" >45N</text>
<line x1="131" y1="170" x2="135" y2="170" stroke="#000" stroke-width="1.5"/>
<text x="100.0" y="174.7" font-size="10.5" fill="#000" text-anchor="start" font-weight="bold" textLength="28.7" lengthAdjust="spacingAndGlyphs" >44.5N</text>
<line x1="131" y1="208" x2="135" y2="208" stroke="#000" stroke-width="1.5"/>
<text x="109.8" y="212.7" font-size="10.5" fill="#000" text-anchor="start" font-weight="bold" textLength="18.9" lengthAdjust="spacingAndGlyphs" >44N</text>
<line x1="131" y1="245" x2="135" y2="245" stroke="#000" stroke-width="1.5"/>
<text x="100.0" y="249.7" font-size="10.5" fill="#000" text-anchor="start" font-weight="bold" textLength="28.7" lengthAdjust="spacingAndGlyphs" >43.5N</text>
<line x1="131" y1="283" x2="135" y2="283" stroke="#000" stroke-width="1.5"/>
<text x="109.8" y="287.7" font-size="10.5" fill="#000" text-anchor="start" font-weight="bold" textLength="18.9" lengthAdjust="spacingAndGlyphs" >43N</text>
<line x1="131" y1="321" x2="135" y2="321" stroke="#000" stroke-width="1.5"/>
<text x="100.0" y="325.7" font-size="10.5" fill="#000" text-anchor="start" font-weight="bold" textLength="28.7" lengthAdjust="spacingAndGlyphs" >42.5N</text>
<line x1="131" y1="358" x2="135" y2="358" stroke="#000" stroke-width="1.5"/>
<text x="109.8" y="362.7" font-size="10.5" fill="#000" text-anchor="start" font-weight="bold" textLength="18.9" lengthAdjust="spacingAndGlyphs" >42N</text>
<line x1="131" y1="396" x2="135" y2="396" stroke="#000" stroke-width="1.5"/>
<text x="100.0" y="400.7" font-size="10.5" fill="#000" text-anchor="start" font-weight="bold" textLength="28.7" lengthAdjust="spacingAndGlyphs" >41.5N</text>
<line x1="131" y1="433" x2="135" y2="433" stroke="#000" stroke-width="1.5"/>
<text x="109.8" y="437.7" font-size="10.5" fill="#000" text-anchor="start" font-weight="bold" textLength="18.9" lengthAdjust="spacingAndGlyphs" >41N</text>
<line x1="131" y1="471" x2="135" y2="471" stroke="#000" stroke-width="1.5"/>
<text x="100.0" y="475.7" font-size="10.5" fill="#000" text-anchor="start" font-weight="bold" textLength="28.7" lengthAdjust="spacingAndGlyphs" >40.5N</text>
<line x1="131" y1="509" x2="135" y2="509" stroke="#000" stroke-width="1.5"/>
<text x="109.8" y="513.7" font-size="10.5" fill="#000" text-anchor="start" font-weight="bold" textLength="18.9" lengthAdjust="spacingAndGlyphs" >40N</text>
<line x1="131" y1="546" x2="135" y2="546" stroke="#000" stroke-width="1.5"/>
<text x="100.0" y="550.7" font-size="10.5" fill="#000" text-anchor="start" font-weight="bold" textLength="28.7" lengthAdjust="spacingAndGlyphs" >39.5N</text>
</svg></body></html>
